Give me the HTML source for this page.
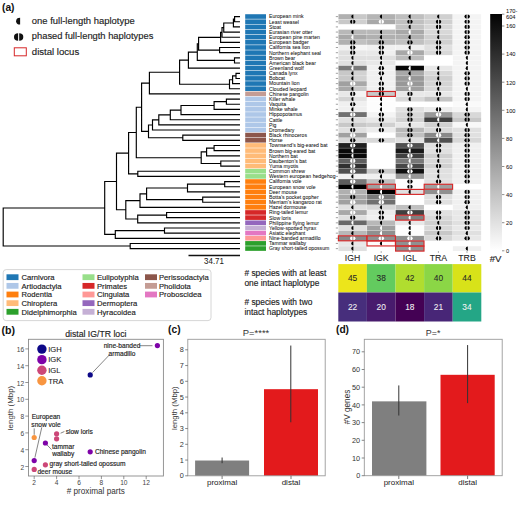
<!DOCTYPE html>
<html><head><meta charset="utf-8"><style>
html,body{margin:0;padding:0;background:#fff;width:520px;height:505px;overflow:hidden}
svg{display:block}
</style></head><body>
<svg width="520" height="505" viewBox="0 0 520 505" font-family='"Liberation Sans", sans-serif'>
<rect width="520" height="505" fill="#fff"/>
<text x="2.00" y="10.80" font-size="10.2" text-anchor="start" font-weight="bold" fill="#111" >(a)</text>
<path d="M20.1,17.8 V24.6 A4.0,3.4 0 0 1 20.1,17.8 Z" fill="#111"/>
<path d="M18.1,33.3 V40.8 A4.1,3.75 0 0 1 18.1,33.3 Z" fill="#111"/>
<path d="M19.2,33.3 V40.8 A4.1,3.75 0 0 0 19.2,33.3 Z" fill="#111"/>
<rect x="14.3" y="47.8" width="12.0" height="8.0" fill="none" stroke="#d62728" stroke-width="1"/>
<text x="31.80" y="23.80" font-size="9.45" text-anchor="start" font-weight="normal" fill="#222" stroke="#222" stroke-width="0.15" >one full-length haplotype</text>
<text x="31.80" y="38.70" font-size="9.35" text-anchor="start" font-weight="normal" fill="#222" stroke="#222" stroke-width="0.15" >phased full-length haplotypes</text>
<text x="31.80" y="54.70" font-size="9.6" text-anchor="start" font-weight="normal" fill="#222" stroke="#222" stroke-width="0.15" >distal locus</text>
<path d="M3.20,207.96V246.04M3.20,207.96H104.70M104.70,181.48V234.44M104.70,181.48H116.50M116.50,153.17V209.79M116.50,153.17H128.60M128.60,132.48V173.86M128.60,132.48H136.30M136.30,107.21V157.74M136.30,107.21H141.60M141.60,83.07V131.36M141.60,83.07H149.40M149.40,72.20V93.94M149.40,72.20H179.60M179.60,60.12V84.27M179.60,60.12H188.40M188.40,52.09V68.16M188.40,52.09H197.30M197.30,43.75V60.42M197.30,43.75H198.60M198.60,37.38V50.11M198.60,37.38H220.60M220.60,32.39V42.38M220.60,32.39H222.00M222.00,27.55V37.22M222.00,27.55H223.75M223.75,23.04V32.07M223.75,23.04H233.40M233.40,19.18V26.91M233.40,19.18H234.60M234.60,16.60V21.75M234.60,16.60H239.40M234.60,21.75H239.40M233.40,26.91H239.40M223.75,32.07H239.40M222.00,37.22H239.40M220.60,42.38H239.40M198.60,50.11H219.60M219.60,47.53V52.69M219.60,47.53H239.40M219.60,52.69H239.40M197.30,60.42H234.50M234.50,57.85V63.00M234.50,57.85H239.40M234.50,63.00H239.40M188.40,68.16H239.40M179.60,84.27H229.50M229.50,79.76V88.78M229.50,79.76H232.60M232.60,75.89V83.63M232.60,75.89H236.00M236.00,73.31V78.47M236.00,73.31H239.40M236.00,78.47H239.40M232.60,83.63H239.40M229.50,88.78H239.40M149.40,93.94H239.40M141.60,131.36H148.50M148.50,124.95V137.76M148.50,124.95H152.50M152.50,119.88V130.03M152.50,119.88H158.80M158.80,114.88V124.87M158.80,114.88H170.30M170.30,110.05V119.72M170.30,110.05H181.00M181.00,105.54V114.56M181.00,105.54H214.10M214.10,101.67V109.41M214.10,101.67H226.40M226.40,99.09V104.25M226.40,99.09H239.40M226.40,104.25H239.40M214.10,109.41H239.40M181.00,114.56H239.40M170.30,119.72H239.40M158.80,124.87H239.40M152.50,130.03H239.40M148.50,137.76H182.80M182.80,135.19V140.34M182.80,135.19H239.40M182.80,140.34H239.40M136.30,157.74H201.20M201.20,151.94V163.54M201.20,151.94H206.60M206.60,148.08V155.81M206.60,148.08H214.10M214.10,145.50V150.65M214.10,145.50H239.40M214.10,150.65H239.40M206.60,155.81H239.40M201.20,163.54H220.80M220.80,160.97V166.12M220.80,160.97H239.40M220.80,166.12H239.40M128.60,173.86H137.80M137.80,171.28V176.43M137.80,171.28H239.40M137.80,176.43H239.40M116.50,209.79H125.80M125.80,200.60V218.97M125.80,200.60H140.00M140.00,193.84V207.37M140.00,193.84H146.60M146.60,188.03V199.64M146.60,188.03H187.50M187.50,184.17V191.90M187.50,184.17H224.70M224.70,181.59V186.75M224.70,181.59H239.40M224.70,186.75H239.40M187.50,191.90H239.40M146.60,199.64H202.70M202.70,197.06V202.21M202.70,197.06H239.40M202.70,202.21H239.40M140.00,207.37H239.40M125.80,218.97H137.70M137.70,215.10V222.84M137.70,215.10H166.60M166.60,212.53V217.68M166.60,212.53H239.40M166.60,217.68H239.40M137.70,222.84H239.40M104.70,234.44H115.30M115.30,230.57V238.31M115.30,230.57H164.50M164.50,227.99V233.15M164.50,227.99H239.40M164.50,233.15H239.40M115.30,238.31H239.40M3.20,246.04H130.20M130.20,243.46V248.62M130.20,243.46H239.40M130.20,248.62H239.40" stroke="#000" stroke-width="1.15" fill="none" stroke-linecap="square"/>
<path d="M188.5,255.6H240" stroke="#111" stroke-width="1.5"/>
<text x="214.00" y="264.30" font-size="8.4" text-anchor="middle" font-weight="normal" fill="#1a1a1a" stroke="#1a1a1a" stroke-width="0.05" textLength="19.8" lengthAdjust="spacingAndGlyphs">34.71</text>
<rect x="245.2" y="14.22" width="20.8" height="4.61" fill="#1f77b4"/>
<rect x="245.2" y="19.38" width="20.8" height="4.61" fill="#1f77b4"/>
<rect x="245.2" y="24.53" width="20.8" height="4.61" fill="#1f77b4"/>
<rect x="245.2" y="29.69" width="20.8" height="4.61" fill="#1f77b4"/>
<rect x="245.2" y="34.84" width="20.8" height="4.61" fill="#1f77b4"/>
<rect x="245.2" y="40.00" width="20.8" height="4.61" fill="#1f77b4"/>
<rect x="245.2" y="45.16" width="20.8" height="4.61" fill="#1f77b4"/>
<rect x="245.2" y="50.31" width="20.8" height="4.61" fill="#1f77b4"/>
<rect x="245.2" y="55.47" width="20.8" height="4.61" fill="#1f77b4"/>
<rect x="245.2" y="60.62" width="20.8" height="4.61" fill="#1f77b4"/>
<rect x="245.2" y="65.78" width="20.8" height="4.61" fill="#1f77b4"/>
<rect x="245.2" y="70.94" width="20.8" height="4.61" fill="#1f77b4"/>
<rect x="245.2" y="76.09" width="20.8" height="4.61" fill="#1f77b4"/>
<rect x="245.2" y="81.25" width="20.8" height="4.61" fill="#1f77b4"/>
<rect x="245.2" y="86.40" width="20.8" height="4.61" fill="#1f77b4"/>
<rect x="245.2" y="91.56" width="20.8" height="4.61" fill="#c49c94"/>
<rect x="245.2" y="96.72" width="20.8" height="4.61" fill="#aec7e8"/>
<rect x="245.2" y="101.87" width="20.8" height="4.61" fill="#aec7e8"/>
<rect x="245.2" y="107.03" width="20.8" height="4.61" fill="#aec7e8"/>
<rect x="245.2" y="112.18" width="20.8" height="4.61" fill="#aec7e8"/>
<rect x="245.2" y="117.34" width="20.8" height="4.61" fill="#aec7e8"/>
<rect x="245.2" y="122.50" width="20.8" height="4.61" fill="#aec7e8"/>
<rect x="245.2" y="127.65" width="20.8" height="4.61" fill="#aec7e8"/>
<rect x="245.2" y="132.81" width="20.8" height="4.61" fill="#8c564b"/>
<rect x="245.2" y="137.96" width="20.8" height="4.61" fill="#8c564b"/>
<rect x="245.2" y="143.12" width="20.8" height="4.61" fill="#ffbb78"/>
<rect x="245.2" y="148.28" width="20.8" height="4.61" fill="#ffbb78"/>
<rect x="245.2" y="153.43" width="20.8" height="4.61" fill="#ffbb78"/>
<rect x="245.2" y="158.59" width="20.8" height="4.61" fill="#ffbb78"/>
<rect x="245.2" y="163.74" width="20.8" height="4.61" fill="#ffbb78"/>
<rect x="245.2" y="168.90" width="20.8" height="4.61" fill="#98df8a"/>
<rect x="245.2" y="174.06" width="20.8" height="4.61" fill="#98df8a"/>
<rect x="245.2" y="179.21" width="20.8" height="4.61" fill="#ff7f0e"/>
<rect x="245.2" y="184.37" width="20.8" height="4.61" fill="#ff7f0e"/>
<rect x="245.2" y="189.52" width="20.8" height="4.61" fill="#ff7f0e"/>
<rect x="245.2" y="194.68" width="20.8" height="4.61" fill="#ff7f0e"/>
<rect x="245.2" y="199.84" width="20.8" height="4.61" fill="#ff7f0e"/>
<rect x="245.2" y="204.99" width="20.8" height="4.61" fill="#ff7f0e"/>
<rect x="245.2" y="210.15" width="20.8" height="4.61" fill="#d62728"/>
<rect x="245.2" y="215.30" width="20.8" height="4.61" fill="#d62728"/>
<rect x="245.2" y="220.46" width="20.8" height="4.61" fill="#9467bd"/>
<rect x="245.2" y="225.62" width="20.8" height="4.61" fill="#c5b0d5"/>
<rect x="245.2" y="230.77" width="20.8" height="4.61" fill="#e377c2"/>
<rect x="245.2" y="235.93" width="20.8" height="4.61" fill="#ff9896"/>
<rect x="245.2" y="241.08" width="20.8" height="4.61" fill="#2ca02c"/>
<rect x="245.2" y="246.24" width="20.8" height="4.61" fill="#2ca02c"/>
<text x="269.00" y="18.45" font-size="5.15" text-anchor="start" font-weight="normal" fill="#111" stroke="#111" stroke-width="0.04" >European mink</text>
<text x="269.00" y="23.60" font-size="5.15" text-anchor="start" font-weight="normal" fill="#111" stroke="#111" stroke-width="0.04" >Least weasel</text>
<text x="269.00" y="28.76" font-size="5.15" text-anchor="start" font-weight="normal" fill="#111" stroke="#111" stroke-width="0.04" >Stoat</text>
<text x="269.00" y="33.92" font-size="5.15" text-anchor="start" font-weight="normal" fill="#111" stroke="#111" stroke-width="0.04" >Eurasian river otter</text>
<text x="269.00" y="39.07" font-size="5.15" text-anchor="start" font-weight="normal" fill="#111" stroke="#111" stroke-width="0.04" >European pine marten</text>
<text x="269.00" y="44.23" font-size="5.15" text-anchor="start" font-weight="normal" fill="#111" stroke="#111" stroke-width="0.04" >European badger</text>
<text x="269.00" y="49.38" font-size="5.15" text-anchor="start" font-weight="normal" fill="#111" stroke="#111" stroke-width="0.04" >California sea lion</text>
<text x="269.00" y="54.54" font-size="5.15" text-anchor="start" font-weight="normal" fill="#111" stroke="#111" stroke-width="0.04" >Northern elephant seal</text>
<text x="269.00" y="59.70" font-size="5.15" text-anchor="start" font-weight="normal" fill="#111" stroke="#111" stroke-width="0.04" >Brown bear</text>
<text x="269.00" y="64.85" font-size="5.15" text-anchor="start" font-weight="normal" fill="#111" stroke="#111" stroke-width="0.04" >American black bear</text>
<text x="269.00" y="70.01" font-size="5.15" text-anchor="start" font-weight="normal" fill="#111" stroke="#111" stroke-width="0.04" >Greenland wolf</text>
<text x="269.00" y="75.16" font-size="5.15" text-anchor="start" font-weight="normal" fill="#111" stroke="#111" stroke-width="0.04" >Canada lynx</text>
<text x="269.00" y="80.32" font-size="5.15" text-anchor="start" font-weight="normal" fill="#111" stroke="#111" stroke-width="0.04" >Bobcat</text>
<text x="269.00" y="85.48" font-size="5.15" text-anchor="start" font-weight="normal" fill="#111" stroke="#111" stroke-width="0.04" >Mountain lion</text>
<text x="269.00" y="90.63" font-size="5.15" text-anchor="start" font-weight="normal" fill="#111" stroke="#111" stroke-width="0.04" >Clouded leopard</text>
<text x="269.00" y="95.79" font-size="5.15" text-anchor="start" font-weight="normal" fill="#111" stroke="#111" stroke-width="0.04" >Chinese pangolin</text>
<text x="269.00" y="100.94" font-size="5.15" text-anchor="start" font-weight="normal" fill="#111" stroke="#111" stroke-width="0.04" >Killer whale</text>
<text x="269.00" y="106.10" font-size="5.15" text-anchor="start" font-weight="normal" fill="#111" stroke="#111" stroke-width="0.04" >Vaquita</text>
<text x="269.00" y="111.26" font-size="5.15" text-anchor="start" font-weight="normal" fill="#111" stroke="#111" stroke-width="0.04" >Minke whale</text>
<text x="269.00" y="116.41" font-size="5.15" text-anchor="start" font-weight="normal" fill="#111" stroke="#111" stroke-width="0.04" >Hippopotamus</text>
<text x="269.00" y="121.57" font-size="5.15" text-anchor="start" font-weight="normal" fill="#111" stroke="#111" stroke-width="0.04" >Cattle</text>
<text x="269.00" y="126.72" font-size="5.15" text-anchor="start" font-weight="normal" fill="#111" stroke="#111" stroke-width="0.04" >Pig</text>
<text x="269.00" y="131.88" font-size="5.15" text-anchor="start" font-weight="normal" fill="#111" stroke="#111" stroke-width="0.04" >Dromedary</text>
<text x="269.00" y="137.04" font-size="5.15" text-anchor="start" font-weight="normal" fill="#111" stroke="#111" stroke-width="0.04" >Black rhinoceros</text>
<text x="269.00" y="142.19" font-size="5.15" text-anchor="start" font-weight="normal" fill="#111" stroke="#111" stroke-width="0.04" >Horse</text>
<text x="269.00" y="147.35" font-size="5.15" text-anchor="start" font-weight="normal" fill="#111" stroke="#111" stroke-width="0.04" >Townsend’s big-eared bat</text>
<text x="269.00" y="152.50" font-size="5.15" text-anchor="start" font-weight="normal" fill="#111" stroke="#111" stroke-width="0.04" >Brown big-eared bat</text>
<text x="269.00" y="157.66" font-size="5.15" text-anchor="start" font-weight="normal" fill="#111" stroke="#111" stroke-width="0.04" >Northern bat</text>
<text x="269.00" y="162.82" font-size="5.15" text-anchor="start" font-weight="normal" fill="#111" stroke="#111" stroke-width="0.04" >Daubenton’s bat</text>
<text x="269.00" y="167.97" font-size="5.15" text-anchor="start" font-weight="normal" fill="#111" stroke="#111" stroke-width="0.04" >Yuma myotis</text>
<text x="269.00" y="173.13" font-size="5.15" text-anchor="start" font-weight="normal" fill="#111" stroke="#111" stroke-width="0.04" >Common shrew</text>
<text x="269.00" y="178.28" font-size="5.15" text-anchor="start" font-weight="normal" fill="#111" stroke="#111" stroke-width="0.04" >Western european hedgehog</text>
<text x="269.00" y="183.44" font-size="5.15" text-anchor="start" font-weight="normal" fill="#111" stroke="#111" stroke-width="0.04" >California vole</text>
<text x="269.00" y="188.60" font-size="5.15" text-anchor="start" font-weight="normal" fill="#111" stroke="#111" stroke-width="0.04" >European snow vole</text>
<text x="269.00" y="193.75" font-size="5.15" text-anchor="start" font-weight="normal" fill="#111" stroke="#111" stroke-width="0.04" >Deer mouse</text>
<text x="269.00" y="198.91" font-size="5.15" text-anchor="start" font-weight="normal" fill="#111" stroke="#111" stroke-width="0.04" >Botta’s pocket gopher</text>
<text x="269.00" y="204.06" font-size="5.15" text-anchor="start" font-weight="normal" fill="#111" stroke="#111" stroke-width="0.04" >Merriam’s kangaroo rat</text>
<text x="269.00" y="209.22" font-size="5.15" text-anchor="start" font-weight="normal" fill="#111" stroke="#111" stroke-width="0.04" >Hazel dormouse</text>
<text x="269.00" y="214.38" font-size="5.15" text-anchor="start" font-weight="normal" fill="#111" stroke="#111" stroke-width="0.04" >Ring-tailed lemur</text>
<text x="269.00" y="219.53" font-size="5.15" text-anchor="start" font-weight="normal" fill="#111" stroke="#111" stroke-width="0.04" >Slow loris</text>
<text x="269.00" y="224.69" font-size="5.15" text-anchor="start" font-weight="normal" fill="#111" stroke="#111" stroke-width="0.04" >Philippine flying lemur</text>
<text x="269.00" y="229.84" font-size="5.15" text-anchor="start" font-weight="normal" fill="#111" stroke="#111" stroke-width="0.04" >Yellow-spotted hyrax</text>
<text x="269.00" y="235.00" font-size="5.15" text-anchor="start" font-weight="normal" fill="#111" stroke="#111" stroke-width="0.04" >Asiatic elephant</text>
<text x="269.00" y="240.16" font-size="5.15" text-anchor="start" font-weight="normal" fill="#111" stroke="#111" stroke-width="0.04" >Nine-banded armadillo</text>
<text x="269.00" y="245.31" font-size="5.15" text-anchor="start" font-weight="normal" fill="#111" stroke="#111" stroke-width="0.04" >Tammar wallaby</text>
<text x="269.00" y="250.47" font-size="5.15" text-anchor="start" font-weight="normal" fill="#111" stroke="#111" stroke-width="0.04" >Gray short-tailed opossum</text>
<path d="M335.8,16.60H338" stroke="#444" stroke-width="0.5"/>
<path d="M335.8,21.75H338" stroke="#444" stroke-width="0.5"/>
<path d="M335.8,26.91H338" stroke="#444" stroke-width="0.5"/>
<path d="M335.8,32.07H338" stroke="#444" stroke-width="0.5"/>
<path d="M335.8,37.22H338" stroke="#444" stroke-width="0.5"/>
<path d="M335.8,42.38H338" stroke="#444" stroke-width="0.5"/>
<path d="M335.8,47.53H338" stroke="#444" stroke-width="0.5"/>
<path d="M335.8,52.69H338" stroke="#444" stroke-width="0.5"/>
<path d="M335.8,57.85H338" stroke="#444" stroke-width="0.5"/>
<path d="M335.8,63.00H338" stroke="#444" stroke-width="0.5"/>
<path d="M335.8,68.16H338" stroke="#444" stroke-width="0.5"/>
<path d="M335.8,73.31H338" stroke="#444" stroke-width="0.5"/>
<path d="M335.8,78.47H338" stroke="#444" stroke-width="0.5"/>
<path d="M335.8,83.63H338" stroke="#444" stroke-width="0.5"/>
<path d="M335.8,88.78H338" stroke="#444" stroke-width="0.5"/>
<path d="M335.8,93.94H338" stroke="#444" stroke-width="0.5"/>
<path d="M335.8,99.09H338" stroke="#444" stroke-width="0.5"/>
<path d="M335.8,104.25H338" stroke="#444" stroke-width="0.5"/>
<path d="M335.8,109.41H338" stroke="#444" stroke-width="0.5"/>
<path d="M335.8,114.56H338" stroke="#444" stroke-width="0.5"/>
<path d="M335.8,119.72H338" stroke="#444" stroke-width="0.5"/>
<path d="M335.8,124.87H338" stroke="#444" stroke-width="0.5"/>
<path d="M335.8,130.03H338" stroke="#444" stroke-width="0.5"/>
<path d="M335.8,135.19H338" stroke="#444" stroke-width="0.5"/>
<path d="M335.8,140.34H338" stroke="#444" stroke-width="0.5"/>
<path d="M335.8,145.50H338" stroke="#444" stroke-width="0.5"/>
<path d="M335.8,150.65H338" stroke="#444" stroke-width="0.5"/>
<path d="M335.8,155.81H338" stroke="#444" stroke-width="0.5"/>
<path d="M335.8,160.97H338" stroke="#444" stroke-width="0.5"/>
<path d="M335.8,166.12H338" stroke="#444" stroke-width="0.5"/>
<path d="M335.8,171.28H338" stroke="#444" stroke-width="0.5"/>
<path d="M335.8,176.43H338" stroke="#444" stroke-width="0.5"/>
<path d="M335.8,181.59H338" stroke="#444" stroke-width="0.5"/>
<path d="M335.8,186.75H338" stroke="#444" stroke-width="0.5"/>
<path d="M335.8,191.90H338" stroke="#444" stroke-width="0.5"/>
<path d="M335.8,197.06H338" stroke="#444" stroke-width="0.5"/>
<path d="M335.8,202.21H338" stroke="#444" stroke-width="0.5"/>
<path d="M335.8,207.37H338" stroke="#444" stroke-width="0.5"/>
<path d="M335.8,212.53H338" stroke="#444" stroke-width="0.5"/>
<path d="M335.8,217.68H338" stroke="#444" stroke-width="0.5"/>
<path d="M335.8,222.84H338" stroke="#444" stroke-width="0.5"/>
<path d="M335.8,227.99H338" stroke="#444" stroke-width="0.5"/>
<path d="M335.8,233.15H338" stroke="#444" stroke-width="0.5"/>
<path d="M335.8,238.31H338" stroke="#444" stroke-width="0.5"/>
<path d="M335.8,243.46H338" stroke="#444" stroke-width="0.5"/>
<path d="M335.8,248.62H338" stroke="#444" stroke-width="0.5"/>
<rect x="338.45" y="14.17" width="14.15" height="4.86" fill="#b0b0b0"/><rect x="352.60" y="14.17" width="14.15" height="4.86" fill="#c8c8c8"/><rect x="367.05" y="14.17" width="14.15" height="4.86" fill="#b5b5b5"/><rect x="381.20" y="14.17" width="14.15" height="4.86" fill="#b0b0b0"/><rect x="395.65" y="14.17" width="14.15" height="4.86" fill="#bfbfbf"/><rect x="409.80" y="14.17" width="14.15" height="4.86" fill="#bfbfbf"/><rect x="424.25" y="14.17" width="14.15" height="4.86" fill="#d0d0d0"/><rect x="438.40" y="14.17" width="14.15" height="4.86" fill="#d0d0d0"/><rect x="452.85" y="14.17" width="14.15" height="4.86" fill="#f4f4f4"/><rect x="467.00" y="14.17" width="14.15" height="4.86" fill="#f4f4f4"/><rect x="338.45" y="19.33" width="14.15" height="4.86" fill="#c8c8c8"/><rect x="352.60" y="19.33" width="14.15" height="4.86" fill="#cfcfcf"/><rect x="367.05" y="19.33" width="14.15" height="4.86" fill="#a8a8a8"/><rect x="381.20" y="19.33" width="14.15" height="4.86" fill="#a8a8a8"/><rect x="395.65" y="19.33" width="14.15" height="4.86" fill="#c0c0c0"/><rect x="409.80" y="19.33" width="14.15" height="4.86" fill="#c0c0c0"/><rect x="424.25" y="19.33" width="14.15" height="4.86" fill="#d0d0d0"/><rect x="438.40" y="19.33" width="14.15" height="4.86" fill="#d0d0d0"/><rect x="452.85" y="19.33" width="14.15" height="4.86" fill="#f4f4f4"/><rect x="467.00" y="19.33" width="14.15" height="4.86" fill="#f4f4f4"/><rect x="395.65" y="24.48" width="14.15" height="4.86" fill="#c4c4c4"/><rect x="409.80" y="24.48" width="14.15" height="4.86" fill="#c4c4c4"/><rect x="424.25" y="24.48" width="14.15" height="4.86" fill="#d8d8d8"/><rect x="438.40" y="24.48" width="14.15" height="4.86" fill="#d8d8d8"/><rect x="452.85" y="24.48" width="14.15" height="4.86" fill="#f4f4f4"/><rect x="467.00" y="24.48" width="14.15" height="4.86" fill="#f4f4f4"/><rect x="338.45" y="29.64" width="14.15" height="4.86" fill="#b8b8b8"/><rect x="352.60" y="29.64" width="14.15" height="4.86" fill="#b8b8b8"/><rect x="367.05" y="29.64" width="14.15" height="4.86" fill="#b8b8b8"/><rect x="381.20" y="29.64" width="14.15" height="4.86" fill="#b8b8b8"/><rect x="395.65" y="29.64" width="14.15" height="4.86" fill="#a8a8a8"/><rect x="409.80" y="29.64" width="14.15" height="4.86" fill="#a8a8a8"/><rect x="424.25" y="29.64" width="14.15" height="4.86" fill="#d8d8d8"/><rect x="438.40" y="29.64" width="14.15" height="4.86" fill="#d8d8d8"/><rect x="452.85" y="29.64" width="14.15" height="4.86" fill="#f4f4f4"/><rect x="467.00" y="29.64" width="14.15" height="4.86" fill="#f4f4f4"/><rect x="338.45" y="34.79" width="14.15" height="4.86" fill="#a8a8a8"/><rect x="352.60" y="34.79" width="14.15" height="4.86" fill="#a8a8a8"/><rect x="367.05" y="34.79" width="14.15" height="4.86" fill="#b0b0b0"/><rect x="381.20" y="34.79" width="14.15" height="4.86" fill="#b0b0b0"/><rect x="395.65" y="34.79" width="14.15" height="4.86" fill="#b0b0b0"/><rect x="409.80" y="34.79" width="14.15" height="4.86" fill="#b0b0b0"/><rect x="424.25" y="34.79" width="14.15" height="4.86" fill="#d0d0d0"/><rect x="438.40" y="34.79" width="14.15" height="4.86" fill="#d0d0d0"/><rect x="452.85" y="34.79" width="14.15" height="4.86" fill="#f4f4f4"/><rect x="467.00" y="34.79" width="14.15" height="4.86" fill="#f4f4f4"/><rect x="338.45" y="39.95" width="14.15" height="4.86" fill="#b0b0b0"/><rect x="352.60" y="39.95" width="14.15" height="4.86" fill="#c0c0c0"/><rect x="367.05" y="39.95" width="14.15" height="4.86" fill="#b8b8b8"/><rect x="381.20" y="39.95" width="14.15" height="4.86" fill="#b8b8b8"/><rect x="395.65" y="39.95" width="14.15" height="4.86" fill="#c0c0c0"/><rect x="409.80" y="39.95" width="14.15" height="4.86" fill="#c0c0c0"/><rect x="424.25" y="39.95" width="14.15" height="4.86" fill="#d0d0d0"/><rect x="438.40" y="39.95" width="14.15" height="4.86" fill="#d0d0d0"/><rect x="452.85" y="39.95" width="14.15" height="4.86" fill="#f4f4f4"/><rect x="467.00" y="39.95" width="14.15" height="4.86" fill="#f4f4f4"/><rect x="338.45" y="45.11" width="14.15" height="4.86" fill="#f0f0f0"/><rect x="352.60" y="45.11" width="14.15" height="4.86" fill="#f5f5f5"/><rect x="367.05" y="45.11" width="14.15" height="4.86" fill="#f0f0f0"/><rect x="381.20" y="45.11" width="14.15" height="4.86" fill="#f0f0f0"/><rect x="395.65" y="45.11" width="14.15" height="4.86" fill="#f0f0f0"/><rect x="409.80" y="45.11" width="14.15" height="4.86" fill="#f0f0f0"/><rect x="424.25" y="45.11" width="14.15" height="4.86" fill="#e0e0e0"/><rect x="438.40" y="45.11" width="14.15" height="4.86" fill="#e0e0e0"/><rect x="452.85" y="45.11" width="14.15" height="4.86" fill="#f4f4f4"/><rect x="467.00" y="45.11" width="14.15" height="4.86" fill="#f4f4f4"/><rect x="338.45" y="50.26" width="14.15" height="4.86" fill="#e0e0e0"/><rect x="352.60" y="50.26" width="14.15" height="4.86" fill="#e8e8e8"/><rect x="367.05" y="50.26" width="14.15" height="4.86" fill="#e8e8e8"/><rect x="381.20" y="50.26" width="14.15" height="4.86" fill="#f0f0f0"/><rect x="395.65" y="50.26" width="14.15" height="4.86" fill="#a8a8a8"/><rect x="409.80" y="50.26" width="14.15" height="4.86" fill="#a8a8a8"/><rect x="424.25" y="50.26" width="14.15" height="4.86" fill="#d8d8d8"/><rect x="438.40" y="50.26" width="14.15" height="4.86" fill="#d8d8d8"/><rect x="452.85" y="50.26" width="14.15" height="4.86" fill="#f4f4f4"/><rect x="467.00" y="50.26" width="14.15" height="4.86" fill="#f4f4f4"/><rect x="338.45" y="55.42" width="14.15" height="4.86" fill="#e0e0e0"/><rect x="352.60" y="55.42" width="14.15" height="4.86" fill="#e0e0e0"/><rect x="367.05" y="55.42" width="14.15" height="4.86" fill="#e0e0e0"/><rect x="381.20" y="55.42" width="14.15" height="4.86" fill="#e0e0e0"/><rect x="395.65" y="55.42" width="14.15" height="4.86" fill="#bcbcbc"/><rect x="409.80" y="55.42" width="14.15" height="4.86" fill="#bcbcbc"/><rect x="452.85" y="55.42" width="14.15" height="4.86" fill="#f4f4f4"/><rect x="467.00" y="55.42" width="14.15" height="4.86" fill="#f4f4f4"/><rect x="338.45" y="60.57" width="14.15" height="4.86" fill="#e0e0e0"/><rect x="352.60" y="60.57" width="14.15" height="4.86" fill="#e0e0e0"/><rect x="367.05" y="60.57" width="14.15" height="4.86" fill="#e8e8e8"/><rect x="381.20" y="60.57" width="14.15" height="4.86" fill="#e8e8e8"/><rect x="452.85" y="60.57" width="14.15" height="4.86" fill="#f4f4f4"/><rect x="467.00" y="60.57" width="14.15" height="4.86" fill="#f4f4f4"/><rect x="338.45" y="65.73" width="14.15" height="4.86" fill="#7a7a7a"/><rect x="352.60" y="65.73" width="14.15" height="4.86" fill="#7a7a7a"/><rect x="367.05" y="65.73" width="14.15" height="4.86" fill="#f0f0f0"/><rect x="381.20" y="65.73" width="14.15" height="4.86" fill="#f0f0f0"/><rect x="395.65" y="65.73" width="14.15" height="4.86" fill="#050505"/><rect x="409.80" y="65.73" width="14.15" height="4.86" fill="#050505"/><rect x="424.25" y="65.73" width="14.15" height="4.86" fill="#e8e8e8"/><rect x="438.40" y="65.73" width="14.15" height="4.86" fill="#e8e8e8"/><rect x="452.85" y="65.73" width="14.15" height="4.86" fill="#f4f4f4"/><rect x="467.00" y="65.73" width="14.15" height="4.86" fill="#f4f4f4"/><rect x="338.45" y="70.89" width="14.15" height="4.86" fill="#c8c8c8"/><rect x="352.60" y="70.89" width="14.15" height="4.86" fill="#d2d2d2"/><rect x="367.05" y="70.89" width="14.15" height="4.86" fill="#f0f0f0"/><rect x="381.20" y="70.89" width="14.15" height="4.86" fill="#f0f0f0"/><rect x="395.65" y="70.89" width="14.15" height="4.86" fill="#a8a8a8"/><rect x="409.80" y="70.89" width="14.15" height="4.86" fill="#a8a8a8"/><rect x="424.25" y="70.89" width="14.15" height="4.86" fill="#d8d8d8"/><rect x="438.40" y="70.89" width="14.15" height="4.86" fill="#d8d8d8"/><rect x="452.85" y="70.89" width="14.15" height="4.86" fill="#f4f4f4"/><rect x="467.00" y="70.89" width="14.15" height="4.86" fill="#f4f4f4"/><rect x="338.45" y="76.04" width="14.15" height="4.86" fill="#c8c8c8"/><rect x="352.60" y="76.04" width="14.15" height="4.86" fill="#d2d2d2"/><rect x="367.05" y="76.04" width="14.15" height="4.86" fill="#f0f0f0"/><rect x="381.20" y="76.04" width="14.15" height="4.86" fill="#f0f0f0"/><rect x="395.65" y="76.04" width="14.15" height="4.86" fill="#989898"/><rect x="409.80" y="76.04" width="14.15" height="4.86" fill="#989898"/><rect x="424.25" y="76.04" width="14.15" height="4.86" fill="#d0d0d0"/><rect x="438.40" y="76.04" width="14.15" height="4.86" fill="#d0d0d0"/><rect x="452.85" y="76.04" width="14.15" height="4.86" fill="#f4f4f4"/><rect x="467.00" y="76.04" width="14.15" height="4.86" fill="#f4f4f4"/><rect x="338.45" y="81.20" width="14.15" height="4.86" fill="#a0a0a0"/><rect x="352.60" y="81.20" width="14.15" height="4.86" fill="#a8a8a8"/><rect x="367.05" y="81.20" width="14.15" height="4.86" fill="#f0f0f0"/><rect x="381.20" y="81.20" width="14.15" height="4.86" fill="#f0f0f0"/><rect x="395.65" y="81.20" width="14.15" height="4.86" fill="#989898"/><rect x="409.80" y="81.20" width="14.15" height="4.86" fill="#989898"/><rect x="424.25" y="81.20" width="14.15" height="4.86" fill="#d4d4d4"/><rect x="438.40" y="81.20" width="14.15" height="4.86" fill="#d4d4d4"/><rect x="452.85" y="81.20" width="14.15" height="4.86" fill="#f4f4f4"/><rect x="467.00" y="81.20" width="14.15" height="4.86" fill="#f4f4f4"/><rect x="338.45" y="86.35" width="14.15" height="4.86" fill="#a8a8a8"/><rect x="352.60" y="86.35" width="14.15" height="4.86" fill="#c8c8c8"/><rect x="367.05" y="86.35" width="14.15" height="4.86" fill="#f0f0f0"/><rect x="381.20" y="86.35" width="14.15" height="4.86" fill="#f0f0f0"/><rect x="395.65" y="86.35" width="14.15" height="4.86" fill="#a0a0a0"/><rect x="409.80" y="86.35" width="14.15" height="4.86" fill="#a0a0a0"/><rect x="424.25" y="86.35" width="14.15" height="4.86" fill="#d8d8d8"/><rect x="438.40" y="86.35" width="14.15" height="4.86" fill="#d8d8d8"/><rect x="452.85" y="86.35" width="14.15" height="4.86" fill="#f4f4f4"/><rect x="467.00" y="86.35" width="14.15" height="4.86" fill="#f4f4f4"/><rect x="338.45" y="91.51" width="14.15" height="4.86" fill="#e8e8e8"/><rect x="352.60" y="91.51" width="14.15" height="4.86" fill="#f4f4f4"/><rect x="367.05" y="91.51" width="14.15" height="4.86" fill="#c8c8c8"/><rect x="381.20" y="91.51" width="14.15" height="4.86" fill="#c8c8c8"/><rect x="395.65" y="91.51" width="14.15" height="4.86" fill="#e8e8e8"/><rect x="409.80" y="91.51" width="14.15" height="4.86" fill="#e8e8e8"/><rect x="424.25" y="91.51" width="14.15" height="4.86" fill="#e8e8e8"/><rect x="438.40" y="91.51" width="14.15" height="4.86" fill="#e8e8e8"/><rect x="452.85" y="91.51" width="14.15" height="4.86" fill="#f4f4f4"/><rect x="467.00" y="91.51" width="14.15" height="4.86" fill="#f4f4f4"/><rect x="338.45" y="96.67" width="14.15" height="4.86" fill="#d4d4d4"/><rect x="352.60" y="96.67" width="14.15" height="4.86" fill="#e4e4e4"/><rect x="367.05" y="96.67" width="14.15" height="4.86" fill="#fdfdfd"/><rect x="381.20" y="96.67" width="14.15" height="4.86" fill="#fdfdfd"/><rect x="395.65" y="96.67" width="14.15" height="4.86" fill="#d8d8d8"/><rect x="409.80" y="96.67" width="14.15" height="4.86" fill="#d8d8d8"/><rect x="424.25" y="96.67" width="14.15" height="4.86" fill="#c4c4c4"/><rect x="438.40" y="96.67" width="14.15" height="4.86" fill="#c4c4c4"/><rect x="452.85" y="96.67" width="14.15" height="4.86" fill="#f4f4f4"/><rect x="467.00" y="96.67" width="14.15" height="4.86" fill="#f4f4f4"/><rect x="338.45" y="101.82" width="14.15" height="4.86" fill="#f0f0f0"/><rect x="352.60" y="101.82" width="14.15" height="4.86" fill="#f0f0f0"/><rect x="367.05" y="101.82" width="14.15" height="4.86" fill="#fdfdfd"/><rect x="381.20" y="101.82" width="14.15" height="4.86" fill="#fdfdfd"/><rect x="452.85" y="101.82" width="14.15" height="4.86" fill="#fafafa"/><rect x="467.00" y="101.82" width="14.15" height="4.86" fill="#fafafa"/><rect x="338.45" y="106.98" width="14.15" height="4.86" fill="#f0f0f0"/><rect x="352.60" y="106.98" width="14.15" height="4.86" fill="#f0f0f0"/><rect x="367.05" y="106.98" width="14.15" height="4.86" fill="#fdfdfd"/><rect x="381.20" y="106.98" width="14.15" height="4.86" fill="#fdfdfd"/><rect x="395.65" y="106.98" width="14.15" height="4.86" fill="#e0e0e0"/><rect x="409.80" y="106.98" width="14.15" height="4.86" fill="#e0e0e0"/><rect x="424.25" y="106.98" width="14.15" height="4.86" fill="#ececec"/><rect x="438.40" y="106.98" width="14.15" height="4.86" fill="#ececec"/><rect x="452.85" y="106.98" width="14.15" height="4.86" fill="#f4f4f4"/><rect x="467.00" y="106.98" width="14.15" height="4.86" fill="#f4f4f4"/><rect x="338.45" y="112.13" width="14.15" height="4.86" fill="#707070"/><rect x="352.60" y="112.13" width="14.15" height="4.86" fill="#707070"/><rect x="367.05" y="112.13" width="14.15" height="4.86" fill="#f4f4f4"/><rect x="381.20" y="112.13" width="14.15" height="4.86" fill="#f4f4f4"/><rect x="395.65" y="112.13" width="14.15" height="4.86" fill="#d8d8d8"/><rect x="409.80" y="112.13" width="14.15" height="4.86" fill="#d8d8d8"/><rect x="424.25" y="112.13" width="14.15" height="4.86" fill="#989898"/><rect x="438.40" y="112.13" width="14.15" height="4.86" fill="#989898"/><rect x="452.85" y="112.13" width="14.15" height="4.86" fill="#d8d8d8"/><rect x="467.00" y="112.13" width="14.15" height="4.86" fill="#d8d8d8"/><rect x="338.45" y="117.29" width="14.15" height="4.86" fill="#e0e0e0"/><rect x="352.60" y="117.29" width="14.15" height="4.86" fill="#e0e0e0"/><rect x="367.05" y="117.29" width="14.15" height="4.86" fill="#e8e8e8"/><rect x="381.20" y="117.29" width="14.15" height="4.86" fill="#e8e8e8"/><rect x="395.65" y="117.29" width="14.15" height="4.86" fill="#d0d0d0"/><rect x="409.80" y="117.29" width="14.15" height="4.86" fill="#d0d0d0"/><rect x="424.25" y="117.29" width="14.15" height="4.86" fill="#404040"/><rect x="438.40" y="117.29" width="14.15" height="4.86" fill="#404040"/><rect x="452.85" y="117.29" width="14.15" height="4.86" fill="#c8c8c8"/><rect x="467.00" y="117.29" width="14.15" height="4.86" fill="#c8c8c8"/><rect x="338.45" y="122.45" width="14.15" height="4.86" fill="#c8c8c8"/><rect x="352.60" y="122.45" width="14.15" height="4.86" fill="#c8c8c8"/><rect x="367.05" y="122.45" width="14.15" height="4.86" fill="#d0d0d0"/><rect x="381.20" y="122.45" width="14.15" height="4.86" fill="#d0d0d0"/><rect x="395.65" y="122.45" width="14.15" height="4.86" fill="#e8e8e8"/><rect x="409.80" y="122.45" width="14.15" height="4.86" fill="#e8e8e8"/><rect x="424.25" y="122.45" width="14.15" height="4.86" fill="#d0d0d0"/><rect x="438.40" y="122.45" width="14.15" height="4.86" fill="#d0d0d0"/><rect x="452.85" y="122.45" width="14.15" height="4.86" fill="#f8f8f8"/><rect x="467.00" y="122.45" width="14.15" height="4.86" fill="#f8f8f8"/><rect x="338.45" y="127.60" width="14.15" height="4.86" fill="#e0e0e0"/><rect x="352.60" y="127.60" width="14.15" height="4.86" fill="#e0e0e0"/><rect x="367.05" y="127.60" width="14.15" height="4.86" fill="#ececec"/><rect x="381.20" y="127.60" width="14.15" height="4.86" fill="#ececec"/><rect x="395.65" y="127.60" width="14.15" height="4.86" fill="#b8b8b8"/><rect x="409.80" y="127.60" width="14.15" height="4.86" fill="#b8b8b8"/><rect x="424.25" y="127.60" width="14.15" height="4.86" fill="#d8d8d8"/><rect x="438.40" y="127.60" width="14.15" height="4.86" fill="#d8d8d8"/><rect x="452.85" y="127.60" width="14.15" height="4.86" fill="#e0e0e0"/><rect x="467.00" y="127.60" width="14.15" height="4.86" fill="#e0e0e0"/><rect x="338.45" y="132.76" width="14.15" height="4.86" fill="#a0a0a0"/><rect x="352.60" y="132.76" width="14.15" height="4.86" fill="#a0a0a0"/><rect x="395.65" y="132.76" width="14.15" height="4.86" fill="#c0c0c0"/><rect x="409.80" y="132.76" width="14.15" height="4.86" fill="#c0c0c0"/><rect x="424.25" y="132.76" width="14.15" height="4.86" fill="#888888"/><rect x="438.40" y="132.76" width="14.15" height="4.86" fill="#888888"/><rect x="452.85" y="132.76" width="14.15" height="4.86" fill="#e0e0e0"/><rect x="467.00" y="132.76" width="14.15" height="4.86" fill="#e0e0e0"/><rect x="338.45" y="137.91" width="14.15" height="4.86" fill="#d8d8d8"/><rect x="352.60" y="137.91" width="14.15" height="4.86" fill="#d8d8d8"/><rect x="367.05" y="137.91" width="14.15" height="4.86" fill="#d8d8d8"/><rect x="381.20" y="137.91" width="14.15" height="4.86" fill="#d8d8d8"/><rect x="395.65" y="137.91" width="14.15" height="4.86" fill="#e0e0e0"/><rect x="409.80" y="137.91" width="14.15" height="4.86" fill="#e0e0e0"/><rect x="424.25" y="137.91" width="14.15" height="4.86" fill="#505050"/><rect x="438.40" y="137.91" width="14.15" height="4.86" fill="#505050"/><rect x="452.85" y="137.91" width="14.15" height="4.86" fill="#d8d8d8"/><rect x="467.00" y="137.91" width="14.15" height="4.86" fill="#d8d8d8"/><rect x="338.45" y="143.07" width="14.15" height="4.86" fill="#202020"/><rect x="352.60" y="143.07" width="14.15" height="4.86" fill="#202020"/><rect x="395.65" y="143.07" width="14.15" height="4.86" fill="#505050"/><rect x="409.80" y="143.07" width="14.15" height="4.86" fill="#505050"/><rect x="424.25" y="143.07" width="14.15" height="4.86" fill="#e0e0e0"/><rect x="438.40" y="143.07" width="14.15" height="4.86" fill="#e0e0e0"/><rect x="452.85" y="143.07" width="14.15" height="4.86" fill="#f0f0f0"/><rect x="467.00" y="143.07" width="14.15" height="4.86" fill="#f0f0f0"/><rect x="338.45" y="148.23" width="14.15" height="4.86" fill="#0a0a0a"/><rect x="352.60" y="148.23" width="14.15" height="4.86" fill="#0a0a0a"/><rect x="395.65" y="148.23" width="14.15" height="4.86" fill="#181818"/><rect x="409.80" y="148.23" width="14.15" height="4.86" fill="#181818"/><rect x="424.25" y="148.23" width="14.15" height="4.86" fill="#e0e0e0"/><rect x="438.40" y="148.23" width="14.15" height="4.86" fill="#e0e0e0"/><rect x="452.85" y="148.23" width="14.15" height="4.86" fill="#f0f0f0"/><rect x="467.00" y="148.23" width="14.15" height="4.86" fill="#f0f0f0"/><rect x="338.45" y="153.38" width="14.15" height="4.86" fill="#0a0a0a"/><rect x="352.60" y="153.38" width="14.15" height="4.86" fill="#0a0a0a"/><rect x="395.65" y="153.38" width="14.15" height="4.86" fill="#404040"/><rect x="409.80" y="153.38" width="14.15" height="4.86" fill="#404040"/><rect x="424.25" y="153.38" width="14.15" height="4.86" fill="#d0d0d0"/><rect x="438.40" y="153.38" width="14.15" height="4.86" fill="#d0d0d0"/><rect x="452.85" y="153.38" width="14.15" height="4.86" fill="#f0f0f0"/><rect x="467.00" y="153.38" width="14.15" height="4.86" fill="#f0f0f0"/><rect x="338.45" y="158.54" width="14.15" height="4.86" fill="#606060"/><rect x="352.60" y="158.54" width="14.15" height="4.86" fill="#606060"/><rect x="395.65" y="158.54" width="14.15" height="4.86" fill="#787878"/><rect x="409.80" y="158.54" width="14.15" height="4.86" fill="#787878"/><rect x="424.25" y="158.54" width="14.15" height="4.86" fill="#d8d8d8"/><rect x="438.40" y="158.54" width="14.15" height="4.86" fill="#d8d8d8"/><rect x="452.85" y="158.54" width="14.15" height="4.86" fill="#f0f0f0"/><rect x="467.00" y="158.54" width="14.15" height="4.86" fill="#f0f0f0"/><rect x="338.45" y="163.69" width="14.15" height="4.86" fill="#303030"/><rect x="352.60" y="163.69" width="14.15" height="4.86" fill="#303030"/><rect x="395.65" y="163.69" width="14.15" height="4.86" fill="#484848"/><rect x="409.80" y="163.69" width="14.15" height="4.86" fill="#484848"/><rect x="424.25" y="163.69" width="14.15" height="4.86" fill="#d0d0d0"/><rect x="438.40" y="163.69" width="14.15" height="4.86" fill="#d0d0d0"/><rect x="452.85" y="163.69" width="14.15" height="4.86" fill="#f0f0f0"/><rect x="467.00" y="163.69" width="14.15" height="4.86" fill="#f0f0f0"/><rect x="338.45" y="168.85" width="14.15" height="4.86" fill="#505050"/><rect x="352.60" y="168.85" width="14.15" height="4.86" fill="#505050"/><rect x="367.05" y="168.85" width="14.15" height="4.86" fill="#c8c8c8"/><rect x="381.20" y="168.85" width="14.15" height="4.86" fill="#c8c8c8"/><rect x="395.65" y="168.85" width="14.15" height="4.86" fill="#101010"/><rect x="409.80" y="168.85" width="14.15" height="4.86" fill="#101010"/><rect x="424.25" y="168.85" width="14.15" height="4.86" fill="#e0e0e0"/><rect x="438.40" y="168.85" width="14.15" height="4.86" fill="#e0e0e0"/><rect x="452.85" y="168.85" width="14.15" height="4.86" fill="#f0f0f0"/><rect x="467.00" y="168.85" width="14.15" height="4.86" fill="#f0f0f0"/><rect x="338.45" y="174.01" width="14.15" height="4.86" fill="#f2f2f2"/><rect x="352.60" y="174.01" width="14.15" height="4.86" fill="#f2f2f2"/><rect x="367.05" y="174.01" width="14.15" height="4.86" fill="#f0f0f0"/><rect x="381.20" y="174.01" width="14.15" height="4.86" fill="#f0f0f0"/><rect x="395.65" y="174.01" width="14.15" height="4.86" fill="#989898"/><rect x="409.80" y="174.01" width="14.15" height="4.86" fill="#989898"/><rect x="424.25" y="174.01" width="14.15" height="4.86" fill="#e0e0e0"/><rect x="438.40" y="174.01" width="14.15" height="4.86" fill="#e0e0e0"/><rect x="452.85" y="174.01" width="14.15" height="4.86" fill="#f0f0f0"/><rect x="467.00" y="174.01" width="14.15" height="4.86" fill="#f0f0f0"/><rect x="338.45" y="179.16" width="14.15" height="4.86" fill="#5c5c5c"/><rect x="352.60" y="179.16" width="14.15" height="4.86" fill="#787878"/><rect x="367.05" y="179.16" width="14.15" height="4.86" fill="#c0c0c0"/><rect x="381.20" y="179.16" width="14.15" height="4.86" fill="#c0c0c0"/><rect x="395.65" y="179.16" width="14.15" height="4.86" fill="#fdfdfd"/><rect x="409.80" y="179.16" width="14.15" height="4.86" fill="#fdfdfd"/><rect x="424.25" y="179.16" width="14.15" height="4.86" fill="#e0e0e0"/><rect x="438.40" y="179.16" width="14.15" height="4.86" fill="#e0e0e0"/><rect x="452.85" y="179.16" width="14.15" height="4.86" fill="#f0f0f0"/><rect x="467.00" y="179.16" width="14.15" height="4.86" fill="#f0f0f0"/><rect x="338.45" y="184.32" width="14.15" height="4.86" fill="#000000"/><rect x="352.60" y="184.32" width="14.15" height="4.86" fill="#000000"/><rect x="367.05" y="184.32" width="14.15" height="4.86" fill="#a0a0a0"/><rect x="381.20" y="184.32" width="14.15" height="4.86" fill="#a0a0a0"/><rect x="395.65" y="184.32" width="14.15" height="4.86" fill="#fdfdfd"/><rect x="409.80" y="184.32" width="14.15" height="4.86" fill="#fdfdfd"/><rect x="424.25" y="184.32" width="14.15" height="4.86" fill="#a0a0a0"/><rect x="438.40" y="184.32" width="14.15" height="4.86" fill="#a0a0a0"/><rect x="338.45" y="189.47" width="14.15" height="4.86" fill="#b0b0b0"/><rect x="352.60" y="189.47" width="14.15" height="4.86" fill="#b0b0b0"/><rect x="367.05" y="189.47" width="14.15" height="4.86" fill="#000000"/><rect x="381.20" y="189.47" width="14.15" height="4.86" fill="#000000"/><rect x="395.65" y="189.47" width="14.15" height="4.86" fill="#e0e0e0"/><rect x="409.80" y="189.47" width="14.15" height="4.86" fill="#e0e0e0"/><rect x="424.25" y="189.47" width="14.15" height="4.86" fill="#909090"/><rect x="438.40" y="189.47" width="14.15" height="4.86" fill="#909090"/><rect x="452.85" y="189.47" width="14.15" height="4.86" fill="#f0f0f0"/><rect x="467.00" y="189.47" width="14.15" height="4.86" fill="#f0f0f0"/><rect x="338.45" y="194.63" width="14.15" height="4.86" fill="#a8a8a8"/><rect x="352.60" y="194.63" width="14.15" height="4.86" fill="#a8a8a8"/><rect x="367.05" y="194.63" width="14.15" height="4.86" fill="#787878"/><rect x="381.20" y="194.63" width="14.15" height="4.86" fill="#787878"/><rect x="424.25" y="194.63" width="14.15" height="4.86" fill="#e0e0e0"/><rect x="438.40" y="194.63" width="14.15" height="4.86" fill="#e0e0e0"/><rect x="452.85" y="194.63" width="14.15" height="4.86" fill="#f0f0f0"/><rect x="467.00" y="194.63" width="14.15" height="4.86" fill="#f0f0f0"/><rect x="338.45" y="199.79" width="14.15" height="4.86" fill="#a0a0a0"/><rect x="352.60" y="199.79" width="14.15" height="4.86" fill="#a0a0a0"/><rect x="367.05" y="199.79" width="14.15" height="4.86" fill="#707070"/><rect x="381.20" y="199.79" width="14.15" height="4.86" fill="#707070"/><rect x="424.25" y="199.79" width="14.15" height="4.86" fill="#e0e0e0"/><rect x="438.40" y="199.79" width="14.15" height="4.86" fill="#e0e0e0"/><rect x="452.85" y="199.79" width="14.15" height="4.86" fill="#f0f0f0"/><rect x="467.00" y="199.79" width="14.15" height="4.86" fill="#f0f0f0"/><rect x="338.45" y="204.94" width="14.15" height="4.86" fill="#e0e0e0"/><rect x="352.60" y="204.94" width="14.15" height="4.86" fill="#e0e0e0"/><rect x="367.05" y="204.94" width="14.15" height="4.86" fill="#d8d8d8"/><rect x="381.20" y="204.94" width="14.15" height="4.86" fill="#d8d8d8"/><rect x="395.65" y="204.94" width="14.15" height="4.86" fill="#c0c0c0"/><rect x="409.80" y="204.94" width="14.15" height="4.86" fill="#c0c0c0"/><rect x="452.85" y="204.94" width="14.15" height="4.86" fill="#f0f0f0"/><rect x="467.00" y="204.94" width="14.15" height="4.86" fill="#f0f0f0"/><rect x="338.45" y="210.10" width="14.15" height="4.86" fill="#a8a8a8"/><rect x="352.60" y="210.10" width="14.15" height="4.86" fill="#a8a8a8"/><rect x="367.05" y="210.10" width="14.15" height="4.86" fill="#ececec"/><rect x="381.20" y="210.10" width="14.15" height="4.86" fill="#ececec"/><rect x="395.65" y="210.10" width="14.15" height="4.86" fill="#404040"/><rect x="409.80" y="210.10" width="14.15" height="4.86" fill="#404040"/><rect x="424.25" y="210.10" width="14.15" height="4.86" fill="#e0e0e0"/><rect x="438.40" y="210.10" width="14.15" height="4.86" fill="#e0e0e0"/><rect x="452.85" y="210.10" width="14.15" height="4.86" fill="#e8e8e8"/><rect x="467.00" y="210.10" width="14.15" height="4.86" fill="#e8e8e8"/><rect x="338.45" y="215.25" width="14.15" height="4.86" fill="#e0e0e0"/><rect x="352.60" y="215.25" width="14.15" height="4.86" fill="#e0e0e0"/><rect x="367.05" y="215.25" width="14.15" height="4.86" fill="#f0f0f0"/><rect x="381.20" y="215.25" width="14.15" height="4.86" fill="#f0f0f0"/><rect x="395.65" y="215.25" width="14.15" height="4.86" fill="#808080"/><rect x="409.80" y="215.25" width="14.15" height="4.86" fill="#808080"/><rect x="424.25" y="215.25" width="14.15" height="4.86" fill="#d8d8d8"/><rect x="438.40" y="215.25" width="14.15" height="4.86" fill="#d8d8d8"/><rect x="452.85" y="215.25" width="14.15" height="4.86" fill="#e8e8e8"/><rect x="467.00" y="215.25" width="14.15" height="4.86" fill="#e8e8e8"/><rect x="338.45" y="220.41" width="14.15" height="4.86" fill="#686868"/><rect x="352.60" y="220.41" width="14.15" height="4.86" fill="#686868"/><rect x="367.05" y="220.41" width="14.15" height="4.86" fill="#b8b8b8"/><rect x="381.20" y="220.41" width="14.15" height="4.86" fill="#b8b8b8"/><rect x="395.65" y="220.41" width="14.15" height="4.86" fill="#e8e8e8"/><rect x="409.80" y="220.41" width="14.15" height="4.86" fill="#e8e8e8"/><rect x="424.25" y="220.41" width="14.15" height="4.86" fill="#d0d0d0"/><rect x="438.40" y="220.41" width="14.15" height="4.86" fill="#d0d0d0"/><rect x="452.85" y="220.41" width="14.15" height="4.86" fill="#e0e0e0"/><rect x="467.00" y="220.41" width="14.15" height="4.86" fill="#e0e0e0"/><rect x="338.45" y="225.57" width="14.15" height="4.86" fill="#e0e0e0"/><rect x="352.60" y="225.57" width="14.15" height="4.86" fill="#e0e0e0"/><rect x="367.05" y="225.57" width="14.15" height="4.86" fill="#a0a0a0"/><rect x="381.20" y="225.57" width="14.15" height="4.86" fill="#a0a0a0"/><rect x="395.65" y="225.57" width="14.15" height="4.86" fill="#fdfdfd"/><rect x="409.80" y="225.57" width="14.15" height="4.86" fill="#fdfdfd"/><rect x="424.25" y="225.57" width="14.15" height="4.86" fill="#d8d8d8"/><rect x="438.40" y="225.57" width="14.15" height="4.86" fill="#d8d8d8"/><rect x="452.85" y="225.57" width="14.15" height="4.86" fill="#e8e8e8"/><rect x="467.00" y="225.57" width="14.15" height="4.86" fill="#e8e8e8"/><rect x="338.45" y="230.72" width="14.15" height="4.86" fill="#b8b8b8"/><rect x="352.60" y="230.72" width="14.15" height="4.86" fill="#b8b8b8"/><rect x="367.05" y="230.72" width="14.15" height="4.86" fill="#909090"/><rect x="381.20" y="230.72" width="14.15" height="4.86" fill="#909090"/><rect x="395.65" y="230.72" width="14.15" height="4.86" fill="#fdfdfd"/><rect x="409.80" y="230.72" width="14.15" height="4.86" fill="#fdfdfd"/><rect x="424.25" y="230.72" width="14.15" height="4.86" fill="#c8c8c8"/><rect x="438.40" y="230.72" width="14.15" height="4.86" fill="#c8c8c8"/><rect x="452.85" y="230.72" width="14.15" height="4.86" fill="#e0e0e0"/><rect x="467.00" y="230.72" width="14.15" height="4.86" fill="#e0e0e0"/><rect x="338.45" y="235.88" width="14.15" height="4.86" fill="#888888"/><rect x="352.60" y="235.88" width="14.15" height="4.86" fill="#888888"/><rect x="367.05" y="235.88" width="14.15" height="4.86" fill="#909090"/><rect x="381.20" y="235.88" width="14.15" height="4.86" fill="#909090"/><rect x="395.65" y="235.88" width="14.15" height="4.86" fill="#909090"/><rect x="409.80" y="235.88" width="14.15" height="4.86" fill="#909090"/><rect x="424.25" y="235.88" width="14.15" height="4.86" fill="#d8d8d8"/><rect x="438.40" y="235.88" width="14.15" height="4.86" fill="#d8d8d8"/><rect x="452.85" y="235.88" width="14.15" height="4.86" fill="#e8e8e8"/><rect x="467.00" y="235.88" width="14.15" height="4.86" fill="#e8e8e8"/><rect x="338.45" y="241.03" width="14.15" height="4.86" fill="#e8e8e8"/><rect x="352.60" y="241.03" width="14.15" height="4.86" fill="#e8e8e8"/><rect x="367.05" y="241.03" width="14.15" height="4.86" fill="#fdfdfd"/><rect x="381.20" y="241.03" width="14.15" height="4.86" fill="#fdfdfd"/><rect x="395.65" y="241.03" width="14.15" height="4.86" fill="#909090"/><rect x="409.80" y="241.03" width="14.15" height="4.86" fill="#909090"/><rect x="338.45" y="246.19" width="14.15" height="4.86" fill="#e0e0e0"/><rect x="352.60" y="246.19" width="14.15" height="4.86" fill="#e0e0e0"/><rect x="395.65" y="246.19" width="14.15" height="4.86" fill="#909090"/><rect x="409.80" y="246.19" width="14.15" height="4.86" fill="#909090"/><rect x="452.85" y="246.19" width="14.15" height="4.86" fill="#f0f0f0"/><rect x="467.00" y="246.19" width="14.15" height="4.86" fill="#f0f0f0"/>
<path d="M353.40,14.50V18.70A2.1,2.1 0 0 1 353.40,14.50Z" fill="#000"/><path d="M382.00,14.50V18.70A2.1,2.1 0 0 1 382.00,14.50Z" fill="#000"/><path d="M410.60,14.50V18.70A2.1,2.1 0 0 1 410.60,14.50Z" fill="#000"/><path d="M439.20,14.50V18.70A2.1,2.1 0 0 1 439.20,14.50Z" fill="#000"/><path d="M466.60,14.50V18.70A2.15,2.1 0 0 1 466.60,14.50Z" fill="#000"/><path d="M467.70,14.50V18.70A2.15,2.1 0 0 0 467.70,14.50Z" fill="#000"/><path d="M352.20,19.65V23.85A2.15,2.1 0 0 1 352.20,19.65Z" fill="#000"/><path d="M353.30,19.65V23.85A2.15,2.1 0 0 0 353.30,19.65Z" fill="#000"/><path d="M380.80,19.65V23.85A2.15,2.1 0 0 1 380.80,19.65Z" fill="#fff"/><path d="M381.90,19.65V23.85A2.15,2.1 0 0 0 381.90,19.65Z" fill="#fff"/><path d="M409.40,19.65V23.85A2.15,2.1 0 0 1 409.40,19.65Z" fill="#000"/><path d="M410.50,19.65V23.85A2.15,2.1 0 0 0 410.50,19.65Z" fill="#000"/><path d="M438.00,19.65V23.85A2.15,2.1 0 0 1 438.00,19.65Z" fill="#000"/><path d="M439.10,19.65V23.85A2.15,2.1 0 0 0 439.10,19.65Z" fill="#000"/><path d="M466.60,19.65V23.85A2.15,2.1 0 0 1 466.60,19.65Z" fill="#000"/><path d="M467.70,19.65V23.85A2.15,2.1 0 0 0 467.70,19.65Z" fill="#000"/><path d="M410.60,24.81V29.01A2.1,2.1 0 0 1 410.60,24.81Z" fill="#000"/><path d="M438.00,24.81V29.01A2.15,2.1 0 0 1 438.00,24.81Z" fill="#000"/><path d="M439.10,24.81V29.01A2.15,2.1 0 0 0 439.10,24.81Z" fill="#000"/><path d="M466.60,24.81V29.01A2.15,2.1 0 0 1 466.60,24.81Z" fill="#000"/><path d="M467.70,24.81V29.01A2.15,2.1 0 0 0 467.70,24.81Z" fill="#000"/><path d="M353.40,29.97V34.17A2.1,2.1 0 0 1 353.40,29.97Z" fill="#000"/><path d="M382.00,29.97V34.17A2.1,2.1 0 0 1 382.00,29.97Z" fill="#000"/><path d="M410.60,29.97V34.17A2.1,2.1 0 0 1 410.60,29.97Z" fill="#fff"/><path d="M439.20,29.97V34.17A2.1,2.1 0 0 1 439.20,29.97Z" fill="#000"/><path d="M466.60,29.97V34.17A2.15,2.1 0 0 1 466.60,29.97Z" fill="#000"/><path d="M467.70,29.97V34.17A2.15,2.1 0 0 0 467.70,29.97Z" fill="#000"/><path d="M353.40,35.12V39.32A2.1,2.1 0 0 1 353.40,35.12Z" fill="#fff"/><path d="M382.00,35.12V39.32A2.1,2.1 0 0 1 382.00,35.12Z" fill="#000"/><path d="M410.60,35.12V39.32A2.1,2.1 0 0 1 410.60,35.12Z" fill="#000"/><path d="M439.20,35.12V39.32A2.1,2.1 0 0 1 439.20,35.12Z" fill="#000"/><path d="M466.60,35.12V39.32A2.15,2.1 0 0 1 466.60,35.12Z" fill="#000"/><path d="M467.70,35.12V39.32A2.15,2.1 0 0 0 467.70,35.12Z" fill="#000"/><path d="M352.20,40.28V44.48A2.15,2.1 0 0 1 352.20,40.28Z" fill="#000"/><path d="M353.30,40.28V44.48A2.15,2.1 0 0 0 353.30,40.28Z" fill="#000"/><path d="M380.80,40.28V44.48A2.15,2.1 0 0 1 380.80,40.28Z" fill="#000"/><path d="M381.90,40.28V44.48A2.15,2.1 0 0 0 381.90,40.28Z" fill="#000"/><path d="M409.40,40.28V44.48A2.15,2.1 0 0 1 409.40,40.28Z" fill="#000"/><path d="M410.50,40.28V44.48A2.15,2.1 0 0 0 410.50,40.28Z" fill="#000"/><path d="M438.00,40.28V44.48A2.15,2.1 0 0 1 438.00,40.28Z" fill="#000"/><path d="M439.10,40.28V44.48A2.15,2.1 0 0 0 439.10,40.28Z" fill="#000"/><path d="M466.60,40.28V44.48A2.15,2.1 0 0 1 466.60,40.28Z" fill="#000"/><path d="M467.70,40.28V44.48A2.15,2.1 0 0 0 467.70,40.28Z" fill="#000"/><path d="M352.20,45.43V49.63A2.15,2.1 0 0 1 352.20,45.43Z" fill="#000"/><path d="M353.30,45.43V49.63A2.15,2.1 0 0 0 353.30,45.43Z" fill="#000"/><path d="M380.80,45.43V49.63A2.15,2.1 0 0 1 380.80,45.43Z" fill="#000"/><path d="M381.90,45.43V49.63A2.15,2.1 0 0 0 381.90,45.43Z" fill="#000"/><path d="M410.60,45.43V49.63A2.1,2.1 0 0 1 410.60,45.43Z" fill="#000"/><path d="M438.00,45.43V49.63A2.15,2.1 0 0 1 438.00,45.43Z" fill="#000"/><path d="M439.10,45.43V49.63A2.15,2.1 0 0 0 439.10,45.43Z" fill="#000"/><path d="M466.60,45.43V49.63A2.15,2.1 0 0 1 466.60,45.43Z" fill="#000"/><path d="M467.70,45.43V49.63A2.15,2.1 0 0 0 467.70,45.43Z" fill="#000"/><path d="M352.20,50.59V54.79A2.15,2.1 0 0 1 352.20,50.59Z" fill="#000"/><path d="M353.30,50.59V54.79A2.15,2.1 0 0 0 353.30,50.59Z" fill="#000"/><path d="M380.80,50.59V54.79A2.15,2.1 0 0 1 380.80,50.59Z" fill="#000"/><path d="M381.90,50.59V54.79A2.15,2.1 0 0 0 381.90,50.59Z" fill="#000"/><path d="M409.40,50.59V54.79A2.15,2.1 0 0 1 409.40,50.59Z" fill="#fff"/><path d="M410.50,50.59V54.79A2.15,2.1 0 0 0 410.50,50.59Z" fill="#fff"/><path d="M438.00,50.59V54.79A2.15,2.1 0 0 1 438.00,50.59Z" fill="#000"/><path d="M439.10,50.59V54.79A2.15,2.1 0 0 0 439.10,50.59Z" fill="#000"/><path d="M466.60,50.59V54.79A2.15,2.1 0 0 1 466.60,50.59Z" fill="#000"/><path d="M467.70,50.59V54.79A2.15,2.1 0 0 0 467.70,50.59Z" fill="#000"/><path d="M353.40,55.75V59.95A2.1,2.1 0 0 1 353.40,55.75Z" fill="#000"/><path d="M382.00,55.75V59.95A2.1,2.1 0 0 1 382.00,55.75Z" fill="#000"/><path d="M410.60,55.75V59.95A2.1,2.1 0 0 1 410.60,55.75Z" fill="#000"/><path d="M467.80,55.75V59.95A2.1,2.1 0 0 1 467.80,55.75Z" fill="#000"/><path d="M353.40,60.90V65.10A2.1,2.1 0 0 1 353.40,60.90Z" fill="#000"/><path d="M382.00,60.90V65.10A2.1,2.1 0 0 1 382.00,60.90Z" fill="#000"/><path d="M467.80,60.90V65.10A2.1,2.1 0 0 1 467.80,60.90Z" fill="#000"/><path d="M353.40,66.06V70.26A2.1,2.1 0 0 1 353.40,66.06Z" fill="#fff"/><path d="M380.80,66.06V70.26A2.15,2.1 0 0 1 380.80,66.06Z" fill="#000"/><path d="M381.90,66.06V70.26A2.15,2.1 0 0 0 381.90,66.06Z" fill="#000"/><path d="M410.60,66.06V70.26A2.1,2.1 0 0 1 410.60,66.06Z" fill="#fff"/><path d="M439.20,66.06V70.26A2.1,2.1 0 0 1 439.20,66.06Z" fill="#000"/><path d="M467.80,66.06V70.26A2.1,2.1 0 0 1 467.80,66.06Z" fill="#000"/><path d="M353.40,71.21V75.41A2.1,2.1 0 0 1 353.40,71.21Z" fill="#000"/><path d="M380.80,71.21V75.41A2.15,2.1 0 0 1 380.80,71.21Z" fill="#000"/><path d="M381.90,71.21V75.41A2.15,2.1 0 0 0 381.90,71.21Z" fill="#000"/><path d="M410.60,71.21V75.41A2.1,2.1 0 0 1 410.60,71.21Z" fill="#000"/><path d="M439.20,71.21V75.41A2.1,2.1 0 0 1 439.20,71.21Z" fill="#000"/><path d="M466.60,71.21V75.41A2.15,2.1 0 0 1 466.60,71.21Z" fill="#000"/><path d="M467.70,71.21V75.41A2.15,2.1 0 0 0 467.70,71.21Z" fill="#000"/><path d="M353.40,76.37V80.57A2.1,2.1 0 0 1 353.40,76.37Z" fill="#000"/><path d="M382.00,76.37V80.57A2.1,2.1 0 0 1 382.00,76.37Z" fill="#000"/><path d="M410.60,76.37V80.57A2.1,2.1 0 0 1 410.60,76.37Z" fill="#fff"/><path d="M439.20,76.37V80.57A2.1,2.1 0 0 1 439.20,76.37Z" fill="#000"/><path d="M466.60,76.37V80.57A2.15,2.1 0 0 1 466.60,76.37Z" fill="#000"/><path d="M467.70,76.37V80.57A2.15,2.1 0 0 0 467.70,76.37Z" fill="#000"/><path d="M352.20,81.53V85.73A2.15,2.1 0 0 1 352.20,81.53Z" fill="#fff"/><path d="M353.30,81.53V85.73A2.15,2.1 0 0 0 353.30,81.53Z" fill="#fff"/><path d="M380.80,81.53V85.73A2.15,2.1 0 0 1 380.80,81.53Z" fill="#000"/><path d="M381.90,81.53V85.73A2.15,2.1 0 0 0 381.90,81.53Z" fill="#000"/><path d="M409.40,81.53V85.73A2.15,2.1 0 0 1 409.40,81.53Z" fill="#fff"/><path d="M410.50,81.53V85.73A2.15,2.1 0 0 0 410.50,81.53Z" fill="#fff"/><path d="M438.00,81.53V85.73A2.15,2.1 0 0 1 438.00,81.53Z" fill="#000"/><path d="M439.10,81.53V85.73A2.15,2.1 0 0 0 439.10,81.53Z" fill="#000"/><path d="M466.60,81.53V85.73A2.15,2.1 0 0 1 466.60,81.53Z" fill="#000"/><path d="M467.70,81.53V85.73A2.15,2.1 0 0 0 467.70,81.53Z" fill="#000"/><path d="M353.40,86.68V90.88A2.1,2.1 0 0 1 353.40,86.68Z" fill="#000"/><path d="M380.80,86.68V90.88A2.15,2.1 0 0 1 380.80,86.68Z" fill="#000"/><path d="M381.90,86.68V90.88A2.15,2.1 0 0 0 381.90,86.68Z" fill="#000"/><path d="M410.60,86.68V90.88A2.1,2.1 0 0 1 410.60,86.68Z" fill="#fff"/><path d="M439.20,86.68V90.88A2.1,2.1 0 0 1 439.20,86.68Z" fill="#000"/><path d="M467.80,86.68V90.88A2.1,2.1 0 0 1 467.80,86.68Z" fill="#000"/><path d="M352.20,91.84V96.04A2.15,2.1 0 0 1 352.20,91.84Z" fill="#000"/><path d="M353.30,91.84V96.04A2.15,2.1 0 0 0 353.30,91.84Z" fill="#000"/><path d="M380.80,91.84V96.04A2.15,2.1 0 0 1 380.80,91.84Z" fill="#000"/><path d="M381.90,91.84V96.04A2.15,2.1 0 0 0 381.90,91.84Z" fill="#000"/><path d="M409.40,91.84V96.04A2.15,2.1 0 0 1 409.40,91.84Z" fill="#000"/><path d="M410.50,91.84V96.04A2.15,2.1 0 0 0 410.50,91.84Z" fill="#000"/><path d="M438.00,91.84V96.04A2.15,2.1 0 0 1 438.00,91.84Z" fill="#000"/><path d="M439.10,91.84V96.04A2.15,2.1 0 0 0 439.10,91.84Z" fill="#000"/><path d="M466.60,91.84V96.04A2.15,2.1 0 0 1 466.60,91.84Z" fill="#000"/><path d="M467.70,91.84V96.04A2.15,2.1 0 0 0 467.70,91.84Z" fill="#000"/><path d="M353.40,96.99V101.19A2.1,2.1 0 0 1 353.40,96.99Z" fill="#000"/><path d="M382.00,96.99V101.19A2.1,2.1 0 0 1 382.00,96.99Z" fill="#000"/><path d="M410.60,96.99V101.19A2.1,2.1 0 0 1 410.60,96.99Z" fill="#000"/><path d="M439.20,96.99V101.19A2.1,2.1 0 0 1 439.20,96.99Z" fill="#000"/><path d="M466.60,96.99V101.19A2.15,2.1 0 0 1 466.60,96.99Z" fill="#000"/><path d="M467.70,96.99V101.19A2.15,2.1 0 0 0 467.70,96.99Z" fill="#000"/><path d="M352.20,102.15V106.35A2.15,2.1 0 0 1 352.20,102.15Z" fill="#000"/><path d="M353.30,102.15V106.35A2.15,2.1 0 0 0 353.30,102.15Z" fill="#000"/><path d="M382.00,102.15V106.35A2.1,2.1 0 0 1 382.00,102.15Z" fill="#000"/><path d="M467.80,102.15V106.35A2.1,2.1 0 0 1 467.80,102.15Z" fill="#000"/><path d="M353.40,107.31V111.51A2.1,2.1 0 0 1 353.40,107.31Z" fill="#000"/><path d="M382.00,107.31V111.51A2.1,2.1 0 0 1 382.00,107.31Z" fill="#000"/><path d="M409.40,107.31V111.51A2.15,2.1 0 0 1 409.40,107.31Z" fill="#000"/><path d="M410.50,107.31V111.51A2.15,2.1 0 0 0 410.50,107.31Z" fill="#000"/><path d="M438.00,107.31V111.51A2.15,2.1 0 0 1 438.00,107.31Z" fill="#000"/><path d="M439.10,107.31V111.51A2.15,2.1 0 0 0 439.10,107.31Z" fill="#000"/><path d="M467.80,107.31V111.51A2.1,2.1 0 0 1 467.80,107.31Z" fill="#000"/><path d="M352.20,112.46V116.66A2.15,2.1 0 0 1 352.20,112.46Z" fill="#fff"/><path d="M353.30,112.46V116.66A2.15,2.1 0 0 0 353.30,112.46Z" fill="#fff"/><path d="M380.80,112.46V116.66A2.15,2.1 0 0 1 380.80,112.46Z" fill="#000"/><path d="M381.90,112.46V116.66A2.15,2.1 0 0 0 381.90,112.46Z" fill="#000"/><path d="M409.40,112.46V116.66A2.15,2.1 0 0 1 409.40,112.46Z" fill="#000"/><path d="M410.50,112.46V116.66A2.15,2.1 0 0 0 410.50,112.46Z" fill="#000"/><path d="M438.00,112.46V116.66A2.15,2.1 0 0 1 438.00,112.46Z" fill="#fff"/><path d="M439.10,112.46V116.66A2.15,2.1 0 0 0 439.10,112.46Z" fill="#fff"/><path d="M466.60,112.46V116.66A2.15,2.1 0 0 1 466.60,112.46Z" fill="#000"/><path d="M467.70,112.46V116.66A2.15,2.1 0 0 0 467.70,112.46Z" fill="#000"/><path d="M353.40,117.62V121.82A2.1,2.1 0 0 1 353.40,117.62Z" fill="#000"/><path d="M380.80,117.62V121.82A2.15,2.1 0 0 1 380.80,117.62Z" fill="#000"/><path d="M381.90,117.62V121.82A2.15,2.1 0 0 0 381.90,117.62Z" fill="#000"/><path d="M409.40,117.62V121.82A2.15,2.1 0 0 1 409.40,117.62Z" fill="#000"/><path d="M410.50,117.62V121.82A2.15,2.1 0 0 0 410.50,117.62Z" fill="#000"/><path d="M439.20,117.62V121.82A2.1,2.1 0 0 1 439.20,117.62Z" fill="#fff"/><path d="M466.60,117.62V121.82A2.15,2.1 0 0 1 466.60,117.62Z" fill="#000"/><path d="M467.70,117.62V121.82A2.15,2.1 0 0 0 467.70,117.62Z" fill="#000"/><path d="M353.40,122.77V126.97A2.1,2.1 0 0 1 353.40,122.77Z" fill="#000"/><path d="M382.00,122.77V126.97A2.1,2.1 0 0 1 382.00,122.77Z" fill="#000"/><path d="M410.60,122.77V126.97A2.1,2.1 0 0 1 410.60,122.77Z" fill="#000"/><path d="M439.20,122.77V126.97A2.1,2.1 0 0 1 439.20,122.77Z" fill="#000"/><path d="M467.80,122.77V126.97A2.1,2.1 0 0 1 467.80,122.77Z" fill="#000"/><path d="M352.20,127.93V132.13A2.15,2.1 0 0 1 352.20,127.93Z" fill="#000"/><path d="M353.30,127.93V132.13A2.15,2.1 0 0 0 353.30,127.93Z" fill="#000"/><path d="M380.80,127.93V132.13A2.15,2.1 0 0 1 380.80,127.93Z" fill="#000"/><path d="M381.90,127.93V132.13A2.15,2.1 0 0 0 381.90,127.93Z" fill="#000"/><path d="M409.40,127.93V132.13A2.15,2.1 0 0 1 409.40,127.93Z" fill="#000"/><path d="M410.50,127.93V132.13A2.15,2.1 0 0 0 410.50,127.93Z" fill="#000"/><path d="M438.00,127.93V132.13A2.15,2.1 0 0 1 438.00,127.93Z" fill="#000"/><path d="M439.10,127.93V132.13A2.15,2.1 0 0 0 439.10,127.93Z" fill="#000"/><path d="M466.60,127.93V132.13A2.15,2.1 0 0 1 466.60,127.93Z" fill="#000"/><path d="M467.70,127.93V132.13A2.15,2.1 0 0 0 467.70,127.93Z" fill="#000"/><path d="M352.20,133.09V137.29A2.15,2.1 0 0 1 352.20,133.09Z" fill="#fff"/><path d="M353.30,133.09V137.29A2.15,2.1 0 0 0 353.30,133.09Z" fill="#fff"/><path d="M409.40,133.09V137.29A2.15,2.1 0 0 1 409.40,133.09Z" fill="#000"/><path d="M410.50,133.09V137.29A2.15,2.1 0 0 0 410.50,133.09Z" fill="#000"/><path d="M438.00,133.09V137.29A2.15,2.1 0 0 1 438.00,133.09Z" fill="#fff"/><path d="M439.10,133.09V137.29A2.15,2.1 0 0 0 439.10,133.09Z" fill="#fff"/><path d="M466.60,133.09V137.29A2.15,2.1 0 0 1 466.60,133.09Z" fill="#000"/><path d="M467.70,133.09V137.29A2.15,2.1 0 0 0 467.70,133.09Z" fill="#000"/><path d="M352.20,138.24V142.44A2.15,2.1 0 0 1 352.20,138.24Z" fill="#000"/><path d="M353.30,138.24V142.44A2.15,2.1 0 0 0 353.30,138.24Z" fill="#000"/><path d="M380.80,138.24V142.44A2.15,2.1 0 0 1 380.80,138.24Z" fill="#000"/><path d="M381.90,138.24V142.44A2.15,2.1 0 0 0 381.90,138.24Z" fill="#000"/><path d="M410.60,138.24V142.44A2.1,2.1 0 0 1 410.60,138.24Z" fill="#000"/><path d="M439.20,138.24V142.44A2.1,2.1 0 0 1 439.20,138.24Z" fill="#fff"/><path d="M466.60,138.24V142.44A2.15,2.1 0 0 1 466.60,138.24Z" fill="#000"/><path d="M467.70,138.24V142.44A2.15,2.1 0 0 0 467.70,138.24Z" fill="#000"/><path d="M352.20,143.40V147.60A2.15,2.1 0 0 1 352.20,143.40Z" fill="#fff"/><path d="M353.30,143.40V147.60A2.15,2.1 0 0 0 353.30,143.40Z" fill="#fff"/><path d="M409.40,143.40V147.60A2.15,2.1 0 0 1 409.40,143.40Z" fill="#fff"/><path d="M410.50,143.40V147.60A2.15,2.1 0 0 0 410.50,143.40Z" fill="#fff"/><path d="M438.00,143.40V147.60A2.15,2.1 0 0 1 438.00,143.40Z" fill="#000"/><path d="M439.10,143.40V147.60A2.15,2.1 0 0 0 439.10,143.40Z" fill="#000"/><path d="M466.60,143.40V147.60A2.15,2.1 0 0 1 466.60,143.40Z" fill="#000"/><path d="M467.70,143.40V147.60A2.15,2.1 0 0 0 467.70,143.40Z" fill="#000"/><path d="M353.40,148.55V152.75A2.1,2.1 0 0 1 353.40,148.55Z" fill="#fff"/><path d="M410.60,148.55V152.75A2.1,2.1 0 0 1 410.60,148.55Z" fill="#fff"/><path d="M438.00,148.55V152.75A2.15,2.1 0 0 1 438.00,148.55Z" fill="#000"/><path d="M439.10,148.55V152.75A2.15,2.1 0 0 0 439.10,148.55Z" fill="#000"/><path d="M466.60,148.55V152.75A2.15,2.1 0 0 1 466.60,148.55Z" fill="#000"/><path d="M467.70,148.55V152.75A2.15,2.1 0 0 0 467.70,148.55Z" fill="#000"/><path d="M353.40,153.71V157.91A2.1,2.1 0 0 1 353.40,153.71Z" fill="#fff"/><path d="M409.40,153.71V157.91A2.15,2.1 0 0 1 409.40,153.71Z" fill="#fff"/><path d="M410.50,153.71V157.91A2.15,2.1 0 0 0 410.50,153.71Z" fill="#fff"/><path d="M439.20,153.71V157.91A2.1,2.1 0 0 1 439.20,153.71Z" fill="#000"/><path d="M466.60,153.71V157.91A2.15,2.1 0 0 1 466.60,153.71Z" fill="#000"/><path d="M467.70,153.71V157.91A2.15,2.1 0 0 0 467.70,153.71Z" fill="#000"/><path d="M352.20,158.87V163.07A2.15,2.1 0 0 1 352.20,158.87Z" fill="#fff"/><path d="M353.30,158.87V163.07A2.15,2.1 0 0 0 353.30,158.87Z" fill="#fff"/><path d="M410.60,158.87V163.07A2.1,2.1 0 0 1 410.60,158.87Z" fill="#fff"/><path d="M439.20,158.87V163.07A2.1,2.1 0 0 1 439.20,158.87Z" fill="#000"/><path d="M466.60,158.87V163.07A2.15,2.1 0 0 1 466.60,158.87Z" fill="#000"/><path d="M467.70,158.87V163.07A2.15,2.1 0 0 0 467.70,158.87Z" fill="#000"/><path d="M352.20,164.02V168.22A2.15,2.1 0 0 1 352.20,164.02Z" fill="#fff"/><path d="M353.30,164.02V168.22A2.15,2.1 0 0 0 353.30,164.02Z" fill="#fff"/><path d="M409.40,164.02V168.22A2.15,2.1 0 0 1 409.40,164.02Z" fill="#fff"/><path d="M410.50,164.02V168.22A2.15,2.1 0 0 0 410.50,164.02Z" fill="#fff"/><path d="M438.00,164.02V168.22A2.15,2.1 0 0 1 438.00,164.02Z" fill="#000"/><path d="M439.10,164.02V168.22A2.15,2.1 0 0 0 439.10,164.02Z" fill="#000"/><path d="M466.60,164.02V168.22A2.15,2.1 0 0 1 466.60,164.02Z" fill="#000"/><path d="M467.70,164.02V168.22A2.15,2.1 0 0 0 467.70,164.02Z" fill="#000"/><path d="M352.20,169.18V173.38A2.15,2.1 0 0 1 352.20,169.18Z" fill="#fff"/><path d="M353.30,169.18V173.38A2.15,2.1 0 0 0 353.30,169.18Z" fill="#fff"/><path d="M380.80,169.18V173.38A2.15,2.1 0 0 1 380.80,169.18Z" fill="#000"/><path d="M381.90,169.18V173.38A2.15,2.1 0 0 0 381.90,169.18Z" fill="#000"/><path d="M409.40,169.18V173.38A2.15,2.1 0 0 1 409.40,169.18Z" fill="#fff"/><path d="M410.50,169.18V173.38A2.15,2.1 0 0 0 410.50,169.18Z" fill="#fff"/><path d="M439.20,169.18V173.38A2.1,2.1 0 0 1 439.20,169.18Z" fill="#000"/><path d="M466.60,169.18V173.38A2.15,2.1 0 0 1 466.60,169.18Z" fill="#000"/><path d="M467.70,169.18V173.38A2.15,2.1 0 0 0 467.70,169.18Z" fill="#000"/><path d="M353.40,174.33V178.53A2.1,2.1 0 0 1 353.40,174.33Z" fill="#000"/><path d="M382.00,174.33V178.53A2.1,2.1 0 0 1 382.00,174.33Z" fill="#000"/><path d="M410.60,174.33V178.53A2.1,2.1 0 0 1 410.60,174.33Z" fill="#fff"/><path d="M439.20,174.33V178.53A2.1,2.1 0 0 1 439.20,174.33Z" fill="#000"/><path d="M466.60,174.33V178.53A2.15,2.1 0 0 1 466.60,174.33Z" fill="#000"/><path d="M467.70,174.33V178.53A2.15,2.1 0 0 0 467.70,174.33Z" fill="#000"/><path d="M352.20,179.49V183.69A2.15,2.1 0 0 1 352.20,179.49Z" fill="#fff"/><path d="M353.30,179.49V183.69A2.15,2.1 0 0 0 353.30,179.49Z" fill="#fff"/><path d="M380.80,179.49V183.69A2.15,2.1 0 0 1 380.80,179.49Z" fill="#000"/><path d="M381.90,179.49V183.69A2.15,2.1 0 0 0 381.90,179.49Z" fill="#000"/><path d="M409.40,179.49V183.69A2.15,2.1 0 0 1 409.40,179.49Z" fill="#000"/><path d="M410.50,179.49V183.69A2.15,2.1 0 0 0 410.50,179.49Z" fill="#000"/><path d="M438.00,179.49V183.69A2.15,2.1 0 0 1 438.00,179.49Z" fill="#000"/><path d="M439.10,179.49V183.69A2.15,2.1 0 0 0 439.10,179.49Z" fill="#000"/><path d="M466.60,179.49V183.69A2.15,2.1 0 0 1 466.60,179.49Z" fill="#000"/><path d="M467.70,179.49V183.69A2.15,2.1 0 0 0 467.70,179.49Z" fill="#000"/><path d="M353.40,184.65V188.85A2.1,2.1 0 0 1 353.40,184.65Z" fill="#fff"/><path d="M382.00,184.65V188.85A2.1,2.1 0 0 1 382.00,184.65Z" fill="#fff"/><path d="M409.40,184.65V188.85A2.15,2.1 0 0 1 409.40,184.65Z" fill="#000"/><path d="M410.50,184.65V188.85A2.15,2.1 0 0 0 410.50,184.65Z" fill="#000"/><path d="M439.20,184.65V188.85A2.1,2.1 0 0 1 439.20,184.65Z" fill="#fff"/><path d="M352.20,189.80V194.00A2.15,2.1 0 0 1 352.20,189.80Z" fill="#fff"/><path d="M353.30,189.80V194.00A2.15,2.1 0 0 0 353.30,189.80Z" fill="#fff"/><path d="M382.00,189.80V194.00A2.1,2.1 0 0 1 382.00,189.80Z" fill="#fff"/><path d="M410.60,189.80V194.00A2.1,2.1 0 0 1 410.60,189.80Z" fill="#000"/><path d="M439.20,189.80V194.00A2.1,2.1 0 0 1 439.20,189.80Z" fill="#fff"/><path d="M466.60,189.80V194.00A2.15,2.1 0 0 1 466.60,189.80Z" fill="#000"/><path d="M467.70,189.80V194.00A2.15,2.1 0 0 0 467.70,189.80Z" fill="#000"/><path d="M352.20,194.96V199.16A2.15,2.1 0 0 1 352.20,194.96Z" fill="#000"/><path d="M353.30,194.96V199.16A2.15,2.1 0 0 0 353.30,194.96Z" fill="#000"/><path d="M380.80,194.96V199.16A2.15,2.1 0 0 1 380.80,194.96Z" fill="#fff"/><path d="M381.90,194.96V199.16A2.15,2.1 0 0 0 381.90,194.96Z" fill="#fff"/><path d="M438.00,194.96V199.16A2.15,2.1 0 0 1 438.00,194.96Z" fill="#000"/><path d="M439.10,194.96V199.16A2.15,2.1 0 0 0 439.10,194.96Z" fill="#000"/><path d="M466.60,194.96V199.16A2.15,2.1 0 0 1 466.60,194.96Z" fill="#000"/><path d="M467.70,194.96V199.16A2.15,2.1 0 0 0 467.70,194.96Z" fill="#000"/><path d="M352.20,200.11V204.31A2.15,2.1 0 0 1 352.20,200.11Z" fill="#fff"/><path d="M353.30,200.11V204.31A2.15,2.1 0 0 0 353.30,200.11Z" fill="#fff"/><path d="M380.80,200.11V204.31A2.15,2.1 0 0 1 380.80,200.11Z" fill="#fff"/><path d="M381.90,200.11V204.31A2.15,2.1 0 0 0 381.90,200.11Z" fill="#fff"/><path d="M438.00,200.11V204.31A2.15,2.1 0 0 1 438.00,200.11Z" fill="#000"/><path d="M439.10,200.11V204.31A2.15,2.1 0 0 0 439.10,200.11Z" fill="#000"/><path d="M466.60,200.11V204.31A2.15,2.1 0 0 1 466.60,200.11Z" fill="#000"/><path d="M467.70,200.11V204.31A2.15,2.1 0 0 0 467.70,200.11Z" fill="#000"/><path d="M353.40,205.27V209.47A2.1,2.1 0 0 1 353.40,205.27Z" fill="#000"/><path d="M382.00,205.27V209.47A2.1,2.1 0 0 1 382.00,205.27Z" fill="#000"/><path d="M410.60,205.27V209.47A2.1,2.1 0 0 1 410.60,205.27Z" fill="#000"/><path d="M467.80,205.27V209.47A2.1,2.1 0 0 1 467.80,205.27Z" fill="#000"/><path d="M352.20,210.43V214.63A2.15,2.1 0 0 1 352.20,210.43Z" fill="#fff"/><path d="M353.30,210.43V214.63A2.15,2.1 0 0 0 353.30,210.43Z" fill="#fff"/><path d="M380.80,210.43V214.63A2.15,2.1 0 0 1 380.80,210.43Z" fill="#000"/><path d="M381.90,210.43V214.63A2.15,2.1 0 0 0 381.90,210.43Z" fill="#000"/><path d="M409.40,210.43V214.63A2.15,2.1 0 0 1 409.40,210.43Z" fill="#fff"/><path d="M410.50,210.43V214.63A2.15,2.1 0 0 0 410.50,210.43Z" fill="#fff"/><path d="M438.00,210.43V214.63A2.15,2.1 0 0 1 438.00,210.43Z" fill="#000"/><path d="M439.10,210.43V214.63A2.15,2.1 0 0 0 439.10,210.43Z" fill="#000"/><path d="M466.60,210.43V214.63A2.15,2.1 0 0 1 466.60,210.43Z" fill="#000"/><path d="M467.70,210.43V214.63A2.15,2.1 0 0 0 467.70,210.43Z" fill="#000"/><path d="M352.20,215.58V219.78A2.15,2.1 0 0 1 352.20,215.58Z" fill="#000"/><path d="M353.30,215.58V219.78A2.15,2.1 0 0 0 353.30,215.58Z" fill="#000"/><path d="M380.80,215.58V219.78A2.15,2.1 0 0 1 380.80,215.58Z" fill="#000"/><path d="M381.90,215.58V219.78A2.15,2.1 0 0 0 381.90,215.58Z" fill="#000"/><path d="M410.60,215.58V219.78A2.1,2.1 0 0 1 410.60,215.58Z" fill="#fff"/><path d="M438.00,215.58V219.78A2.15,2.1 0 0 1 438.00,215.58Z" fill="#000"/><path d="M439.10,215.58V219.78A2.15,2.1 0 0 0 439.10,215.58Z" fill="#000"/><path d="M466.60,215.58V219.78A2.15,2.1 0 0 1 466.60,215.58Z" fill="#000"/><path d="M467.70,215.58V219.78A2.15,2.1 0 0 0 467.70,215.58Z" fill="#000"/><path d="M353.40,220.74V224.94A2.1,2.1 0 0 1 353.40,220.74Z" fill="#fff"/><path d="M382.00,220.74V224.94A2.1,2.1 0 0 1 382.00,220.74Z" fill="#000"/><path d="M410.60,220.74V224.94A2.1,2.1 0 0 1 410.60,220.74Z" fill="#000"/><path d="M439.20,220.74V224.94A2.1,2.1 0 0 1 439.20,220.74Z" fill="#000"/><path d="M466.60,220.74V224.94A2.15,2.1 0 0 1 466.60,220.74Z" fill="#000"/><path d="M467.70,220.74V224.94A2.15,2.1 0 0 0 467.70,220.74Z" fill="#000"/><path d="M353.40,225.89V230.09A2.1,2.1 0 0 1 353.40,225.89Z" fill="#000"/><path d="M382.00,225.89V230.09A2.1,2.1 0 0 1 382.00,225.89Z" fill="#fff"/><path d="M410.60,225.89V230.09A2.1,2.1 0 0 1 410.60,225.89Z" fill="#000"/><path d="M438.00,225.89V230.09A2.15,2.1 0 0 1 438.00,225.89Z" fill="#000"/><path d="M439.10,225.89V230.09A2.15,2.1 0 0 0 439.10,225.89Z" fill="#000"/><path d="M466.60,225.89V230.09A2.15,2.1 0 0 1 466.60,225.89Z" fill="#000"/><path d="M467.70,225.89V230.09A2.15,2.1 0 0 0 467.70,225.89Z" fill="#000"/><path d="M353.40,231.05V235.25A2.1,2.1 0 0 1 353.40,231.05Z" fill="#000"/><path d="M382.00,231.05V235.25A2.1,2.1 0 0 1 382.00,231.05Z" fill="#fff"/><path d="M410.60,231.05V235.25A2.1,2.1 0 0 1 410.60,231.05Z" fill="#000"/><path d="M439.20,231.05V235.25A2.1,2.1 0 0 1 439.20,231.05Z" fill="#000"/><path d="M467.80,231.05V235.25A2.1,2.1 0 0 1 467.80,231.05Z" fill="#000"/><path d="M352.20,236.21V240.41A2.15,2.1 0 0 1 352.20,236.21Z" fill="#fff"/><path d="M353.30,236.21V240.41A2.15,2.1 0 0 0 353.30,236.21Z" fill="#fff"/><path d="M380.80,236.21V240.41A2.15,2.1 0 0 1 380.80,236.21Z" fill="#fff"/><path d="M381.90,236.21V240.41A2.15,2.1 0 0 0 381.90,236.21Z" fill="#fff"/><path d="M409.40,236.21V240.41A2.15,2.1 0 0 1 409.40,236.21Z" fill="#fff"/><path d="M410.50,236.21V240.41A2.15,2.1 0 0 0 410.50,236.21Z" fill="#fff"/><path d="M438.00,236.21V240.41A2.15,2.1 0 0 1 438.00,236.21Z" fill="#000"/><path d="M439.10,236.21V240.41A2.15,2.1 0 0 0 439.10,236.21Z" fill="#000"/><path d="M466.60,236.21V240.41A2.15,2.1 0 0 1 466.60,236.21Z" fill="#000"/><path d="M467.70,236.21V240.41A2.15,2.1 0 0 0 467.70,236.21Z" fill="#000"/><path d="M353.40,241.36V245.56A2.1,2.1 0 0 1 353.40,241.36Z" fill="#000"/><path d="M382.00,241.36V245.56A2.1,2.1 0 0 1 382.00,241.36Z" fill="#000"/><path d="M410.60,241.36V245.56A2.1,2.1 0 0 1 410.60,241.36Z" fill="#fff"/><path d="M353.40,246.52V250.72A2.1,2.1 0 0 1 353.40,246.52Z" fill="#000"/><path d="M410.60,246.52V250.72A2.1,2.1 0 0 1 410.60,246.52Z" fill="#fff"/><path d="M467.80,246.52V250.72A2.1,2.1 0 0 1 467.80,246.52Z" fill="#000"/>
<rect x="367.00" y="91.46" width="28.40" height="4.96" fill="none" stroke="#d62728" stroke-width="1.15"/><rect x="367.00" y="184.27" width="28.40" height="4.96" fill="none" stroke="#d62728" stroke-width="1.15"/><rect x="424.20" y="184.27" width="28.40" height="4.96" fill="none" stroke="#d62728" stroke-width="1.15"/><rect x="395.60" y="189.42" width="28.40" height="4.96" fill="none" stroke="#d62728" stroke-width="1.15"/><rect x="395.60" y="215.20" width="28.40" height="4.96" fill="none" stroke="#d62728" stroke-width="1.15"/><rect x="338.40" y="235.83" width="28.40" height="4.96" fill="none" stroke="#d62728" stroke-width="1.15"/><rect x="367.00" y="235.83" width="28.40" height="4.96" fill="none" stroke="#d62728" stroke-width="1.15"/><rect x="367.00" y="240.98" width="28.40" height="4.96" fill="none" stroke="#d62728" stroke-width="1.15"/><rect x="395.60" y="240.98" width="28.40" height="4.96" fill="none" stroke="#d62728" stroke-width="1.15"/><rect x="395.60" y="246.14" width="28.40" height="4.96" fill="none" stroke="#d62728" stroke-width="1.15"/>
<defs><linearGradient id="gb" x1="0" y1="1" x2="0" y2="0"><stop offset="0" stop-color="#ffffff"/><stop offset="1" stop-color="#030303"/></linearGradient></defs>
<rect x="490.2" y="14.0" width="11.8" height="236.8" fill="url(#gb)"/>
<path d="M502,250.80H504.4" stroke="#444" stroke-width="0.6"/>
<text x="506.00" y="253.10" font-size="5.7" text-anchor="start" font-weight="normal" fill="#222" stroke="#222" stroke-width="0.05" >0</text>
<path d="M502,222.70H504.4" stroke="#444" stroke-width="0.6"/>
<text x="506.00" y="225.00" font-size="5.7" text-anchor="start" font-weight="normal" fill="#222" stroke="#222" stroke-width="0.05" >20</text>
<path d="M502,194.60H504.4" stroke="#444" stroke-width="0.6"/>
<text x="506.00" y="196.90" font-size="5.7" text-anchor="start" font-weight="normal" fill="#222" stroke="#222" stroke-width="0.05" >40</text>
<path d="M502,166.50H504.4" stroke="#444" stroke-width="0.6"/>
<text x="506.00" y="168.80" font-size="5.7" text-anchor="start" font-weight="normal" fill="#222" stroke="#222" stroke-width="0.05" >60</text>
<path d="M502,138.40H504.4" stroke="#444" stroke-width="0.6"/>
<text x="506.00" y="140.70" font-size="5.7" text-anchor="start" font-weight="normal" fill="#222" stroke="#222" stroke-width="0.05" >80</text>
<path d="M502,110.30H504.4" stroke="#444" stroke-width="0.6"/>
<text x="506.00" y="112.60" font-size="5.7" text-anchor="start" font-weight="normal" fill="#222" stroke="#222" stroke-width="0.05" >100</text>
<path d="M502,82.20H504.4" stroke="#444" stroke-width="0.6"/>
<text x="506.00" y="84.50" font-size="5.7" text-anchor="start" font-weight="normal" fill="#222" stroke="#222" stroke-width="0.05" >120</text>
<path d="M502,54.10H504.4" stroke="#444" stroke-width="0.6"/>
<text x="506.00" y="56.40" font-size="5.7" text-anchor="start" font-weight="normal" fill="#222" stroke="#222" stroke-width="0.05" >140</text>
<path d="M502,26.00H504.4" stroke="#444" stroke-width="0.6"/>
<text x="506.00" y="28.30" font-size="5.7" text-anchor="start" font-weight="normal" fill="#222" stroke="#222" stroke-width="0.05" >160</text>
<path d="M502,14.2H504.4" stroke="#444" stroke-width="0.6"/>
<text x="506.00" y="13.45" font-size="5.7" text-anchor="start" font-weight="normal" fill="#222" stroke="#222" stroke-width="0.05" >170-</text>
<text x="506.00" y="19.20" font-size="5.7" text-anchor="start" font-weight="normal" fill="#222" stroke="#222" stroke-width="0.05" >604</text>
<text x="352.60" y="261.40" font-size="8.7" text-anchor="middle" font-weight="normal" fill="#222" stroke="#222" stroke-width="0.08" >IGH</text>
<path d="M352.60,251V253" stroke="#666" stroke-width="0.5"/>
<text x="381.20" y="261.40" font-size="8.7" text-anchor="middle" font-weight="normal" fill="#222" stroke="#222" stroke-width="0.08" >IGK</text>
<path d="M381.20,251V253" stroke="#666" stroke-width="0.5"/>
<text x="409.80" y="261.40" font-size="8.7" text-anchor="middle" font-weight="normal" fill="#222" stroke="#222" stroke-width="0.08" >IGL</text>
<path d="M409.80,251V253" stroke="#666" stroke-width="0.5"/>
<text x="438.40" y="261.40" font-size="8.7" text-anchor="middle" font-weight="normal" fill="#222" stroke="#222" stroke-width="0.08" >TRA</text>
<path d="M438.40,251V253" stroke="#666" stroke-width="0.5"/>
<text x="467.00" y="261.40" font-size="8.7" text-anchor="middle" font-weight="normal" fill="#222" stroke="#222" stroke-width="0.08" >TRB</text>
<path d="M467.00,251V253" stroke="#666" stroke-width="0.5"/>
<text x="495.50" y="261.60" font-size="9.6" text-anchor="middle" font-weight="normal" fill="#222" stroke="#222" stroke-width="0.15" >#V</text>
<rect x="338.30" y="264.1" width="28.60" height="28.4" fill="#ecE51b"/>
<text x="352.60" y="281.30" font-size="8.4" text-anchor="middle" font-weight="normal" fill="#262626" stroke="#262626" stroke-width="0.05" >45</text>
<rect x="366.90" y="264.1" width="28.60" height="28.4" fill="#63cb5f"/>
<text x="381.20" y="281.30" font-size="8.4" text-anchor="middle" font-weight="normal" fill="#262626" stroke="#262626" stroke-width="0.05" >38</text>
<rect x="395.50" y="264.1" width="28.60" height="28.4" fill="#b0dd2f"/>
<text x="409.80" y="281.30" font-size="8.4" text-anchor="middle" font-weight="normal" fill="#262626" stroke="#262626" stroke-width="0.05" >42</text>
<rect x="424.10" y="264.1" width="28.60" height="28.4" fill="#8bd646"/>
<text x="438.40" y="281.30" font-size="8.4" text-anchor="middle" font-weight="normal" fill="#262626" stroke="#262626" stroke-width="0.05" >40</text>
<rect x="452.70" y="264.1" width="28.60" height="28.4" fill="#d8e219"/>
<text x="467.00" y="281.30" font-size="8.4" text-anchor="middle" font-weight="normal" fill="#262626" stroke="#262626" stroke-width="0.05" >44</text>
<rect x="338.30" y="292.5" width="28.60" height="29.0" fill="#472e7c"/>
<text x="352.60" y="310.10" font-size="8.4" text-anchor="middle" font-weight="normal" fill="#f4f4f4" stroke="#f4f4f4" stroke-width="0.05" >22</text>
<rect x="366.90" y="292.5" width="28.60" height="29.0" fill="#481b6d"/>
<text x="381.20" y="310.10" font-size="8.4" text-anchor="middle" font-weight="normal" fill="#f4f4f4" stroke="#f4f4f4" stroke-width="0.05" >20</text>
<rect x="395.50" y="292.5" width="28.60" height="29.0" fill="#440154"/>
<text x="409.80" y="310.10" font-size="8.4" text-anchor="middle" font-weight="normal" fill="#f4f4f4" stroke="#f4f4f4" stroke-width="0.05" >18</text>
<rect x="424.10" y="292.5" width="28.60" height="29.0" fill="#482677"/>
<text x="438.40" y="310.10" font-size="8.4" text-anchor="middle" font-weight="normal" fill="#f4f4f4" stroke="#f4f4f4" stroke-width="0.05" >21</text>
<rect x="452.70" y="292.5" width="28.60" height="29.0" fill="#24a686"/>
<text x="467.00" y="310.10" font-size="8.4" text-anchor="middle" font-weight="normal" fill="#f4f4f4" stroke="#f4f4f4" stroke-width="0.05" >34</text>
<text x="244.40" y="275.60" font-size="8.4" text-anchor="start" font-weight="normal" fill="#222" stroke="#222" stroke-width="0.15" ># species with at least</text>
<text x="244.40" y="285.60" font-size="8.4" text-anchor="start" font-weight="normal" fill="#222" stroke="#222" stroke-width="0.15" >one intact haplotype</text>
<text x="244.40" y="304.60" font-size="8.4" text-anchor="start" font-weight="normal" fill="#222" stroke="#222" stroke-width="0.15" ># species with two</text>
<text x="244.40" y="314.60" font-size="8.4" text-anchor="start" font-weight="normal" fill="#222" stroke="#222" stroke-width="0.15" >intact haplotypes</text>
<rect x="3.2" y="269.6" width="207.8" height="51.0" rx="3" ry="3" fill="#fff" stroke="#cccccc" stroke-width="0.8"/>
<rect x="6.5" y="274.30" width="12" height="5.8" fill="#1f77b4"/>
<text x="21.50" y="280.10" font-size="7.65" text-anchor="start" font-weight="normal" fill="#222" stroke="#222" stroke-width="0.15" >Carnivora</text>
<rect x="6.5" y="282.95" width="12" height="5.8" fill="#aec7e8"/>
<text x="21.50" y="288.75" font-size="7.65" text-anchor="start" font-weight="normal" fill="#222" stroke="#222" stroke-width="0.15" >Artiodactyla</text>
<rect x="6.5" y="291.60" width="12" height="5.8" fill="#ff7f0e"/>
<text x="21.50" y="297.40" font-size="7.65" text-anchor="start" font-weight="normal" fill="#222" stroke="#222" stroke-width="0.15" >Rodentia</text>
<rect x="6.5" y="300.25" width="12" height="5.8" fill="#ffbb78"/>
<text x="21.50" y="306.05" font-size="7.65" text-anchor="start" font-weight="normal" fill="#222" stroke="#222" stroke-width="0.15" >Chiroptera</text>
<rect x="6.5" y="308.90" width="12" height="5.8" fill="#2ca02c"/>
<text x="21.50" y="314.70" font-size="7.65" text-anchor="start" font-weight="normal" fill="#222" stroke="#222" stroke-width="0.15" >Didelphimorphia</text>
<rect x="82.5" y="274.30" width="12" height="5.8" fill="#98df8a"/>
<text x="97.00" y="280.10" font-size="7.65" text-anchor="start" font-weight="normal" fill="#222" stroke="#222" stroke-width="0.15" >Eulipotyphla</text>
<rect x="82.5" y="282.95" width="12" height="5.8" fill="#d62728"/>
<text x="97.00" y="288.75" font-size="7.65" text-anchor="start" font-weight="normal" fill="#222" stroke="#222" stroke-width="0.15" >Primates</text>
<rect x="82.5" y="291.60" width="12" height="5.8" fill="#ff9896"/>
<text x="97.00" y="297.40" font-size="7.65" text-anchor="start" font-weight="normal" fill="#222" stroke="#222" stroke-width="0.15" >Cingulata</text>
<rect x="82.5" y="300.25" width="12" height="5.8" fill="#9467bd"/>
<text x="97.00" y="306.05" font-size="7.65" text-anchor="start" font-weight="normal" fill="#222" stroke="#222" stroke-width="0.15" >Dermoptera</text>
<rect x="82.5" y="308.90" width="12" height="5.8" fill="#c5b0d5"/>
<text x="97.00" y="314.70" font-size="7.65" text-anchor="start" font-weight="normal" fill="#222" stroke="#222" stroke-width="0.15" >Hyracoidea</text>
<rect x="145.0" y="274.30" width="12" height="5.8" fill="#8c564b"/>
<text x="159.00" y="280.10" font-size="7.65" text-anchor="start" font-weight="normal" fill="#222" stroke="#222" stroke-width="0.15" >Perissodactyla</text>
<rect x="145.0" y="282.95" width="12" height="5.8" fill="#c49c94"/>
<text x="159.00" y="288.75" font-size="7.65" text-anchor="start" font-weight="normal" fill="#222" stroke="#222" stroke-width="0.15" >Pholidota</text>
<rect x="145.0" y="291.60" width="12" height="5.8" fill="#e377c2"/>
<text x="159.00" y="297.40" font-size="7.65" text-anchor="start" font-weight="normal" fill="#222" stroke="#222" stroke-width="0.15" >Proboscidea</text>
<text x="1.40" y="333.80" font-size="10.6" text-anchor="start" font-weight="bold" fill="#111" >(b)</text>
<text x="95.80" y="337.00" font-size="8.7" text-anchor="middle" font-weight="normal" fill="#222" stroke="#222" stroke-width="0.15" >distal IG/TR loci</text>
<rect x="28.5" y="339.3" width="134.90" height="136.70" fill="none" stroke="#8a8a8a" stroke-width="0.9"/>
<path d="M25.3,466.50H28.5" stroke="#666" stroke-width="0.7"/>
<text x="24.20" y="469.60" font-size="6.6" text-anchor="end" font-weight="normal" fill="#444" >2</text>
<path d="M25.3,449.70H28.5" stroke="#666" stroke-width="0.7"/>
<text x="24.20" y="452.80" font-size="6.6" text-anchor="end" font-weight="normal" fill="#444" >4</text>
<path d="M25.3,432.90H28.5" stroke="#666" stroke-width="0.7"/>
<text x="24.20" y="436.00" font-size="6.6" text-anchor="end" font-weight="normal" fill="#444" >6</text>
<path d="M25.3,416.10H28.5" stroke="#666" stroke-width="0.7"/>
<text x="24.20" y="419.20" font-size="6.6" text-anchor="end" font-weight="normal" fill="#444" >8</text>
<path d="M25.3,399.30H28.5" stroke="#666" stroke-width="0.7"/>
<text x="24.20" y="402.40" font-size="6.6" text-anchor="end" font-weight="normal" fill="#444" >10</text>
<path d="M25.3,382.50H28.5" stroke="#666" stroke-width="0.7"/>
<text x="24.20" y="385.60" font-size="6.6" text-anchor="end" font-weight="normal" fill="#444" >12</text>
<path d="M25.3,365.70H28.5" stroke="#666" stroke-width="0.7"/>
<text x="24.20" y="368.80" font-size="6.6" text-anchor="end" font-weight="normal" fill="#444" >14</text>
<path d="M25.3,348.90H28.5" stroke="#666" stroke-width="0.7"/>
<text x="24.20" y="352.00" font-size="6.6" text-anchor="end" font-weight="normal" fill="#444" >16</text>
<path d="M34.20,476.0V479.2" stroke="#666" stroke-width="0.7"/>
<text x="34.20" y="484.60" font-size="6.6" text-anchor="middle" font-weight="normal" fill="#444" >2</text>
<path d="M56.60,476.0V479.2" stroke="#666" stroke-width="0.7"/>
<text x="56.60" y="484.60" font-size="6.6" text-anchor="middle" font-weight="normal" fill="#444" >4</text>
<path d="M79.00,476.0V479.2" stroke="#666" stroke-width="0.7"/>
<text x="79.00" y="484.60" font-size="6.6" text-anchor="middle" font-weight="normal" fill="#444" >6</text>
<path d="M101.40,476.0V479.2" stroke="#666" stroke-width="0.7"/>
<text x="101.40" y="484.60" font-size="6.6" text-anchor="middle" font-weight="normal" fill="#444" >8</text>
<path d="M123.80,476.0V479.2" stroke="#666" stroke-width="0.7"/>
<text x="123.80" y="484.60" font-size="6.6" text-anchor="middle" font-weight="normal" fill="#444" >10</text>
<path d="M146.20,476.0V479.2" stroke="#666" stroke-width="0.7"/>
<text x="146.20" y="484.60" font-size="6.6" text-anchor="middle" font-weight="normal" fill="#444" >12</text>
<text x="95.80" y="494.30" font-size="8.2" text-anchor="middle" font-weight="normal" fill="#333" ># proximal parts</text>
<text x="0.00" y="0.00" font-size="7.9" text-anchor="middle" font-weight="normal" fill="#333" transform="translate(13.3,408.0) rotate(-90)">length (Mbp)</text>
<path d="M139.7,345.7H152.5 M109.4,354.9L92.5,372.6 M34.2,428.4V434.8 M41.8,427.3L34.9,457.6 M60.6,433.2L64.4,431.5 M45.8,443.6L51.5,449.6" stroke="#333" stroke-width="0.6" fill="none"/>
<circle cx="90.20" cy="374.94" r="2.6" fill="#0d0887"/>
<circle cx="157.40" cy="345.54" r="2.6" fill="#7e03a8"/>
<circle cx="90.20" cy="451.80" r="2.6" fill="#7e03a8"/>
<circle cx="45.40" cy="442.98" r="2.6" fill="#7e03a8"/>
<circle cx="34.20" cy="460.62" r="2.6" fill="#7e03a8"/>
<circle cx="56.60" cy="433.74" r="2.6" fill="#cc4778"/>
<circle cx="56.60" cy="438.78" r="2.6" fill="#cc4778"/>
<circle cx="45.40" cy="464.82" r="2.6" fill="#cc4778"/>
<circle cx="34.20" cy="469.44" r="2.6" fill="#cc4778"/>
<circle cx="34.20" cy="437.52" r="2.6" fill="#f89540"/>
<circle cx="41.9" cy="349.10" r="4.7" fill="#0d0887"/>
<text x="48.20" y="351.90" font-size="7.6" text-anchor="start" font-weight="normal" fill="#222" stroke="#222" stroke-width="0.1" >IGH</text>
<circle cx="41.9" cy="359.65" r="4.7" fill="#7e03a8"/>
<text x="48.20" y="362.45" font-size="7.6" text-anchor="start" font-weight="normal" fill="#222" stroke="#222" stroke-width="0.1" >IGK</text>
<circle cx="41.9" cy="370.20" r="4.7" fill="#cc4778"/>
<text x="48.20" y="373.00" font-size="7.6" text-anchor="start" font-weight="normal" fill="#222" stroke="#222" stroke-width="0.1" >IGL</text>
<circle cx="41.9" cy="380.75" r="4.7" fill="#f89540"/>
<text x="48.20" y="383.55" font-size="7.6" text-anchor="start" font-weight="normal" fill="#222" stroke="#222" stroke-width="0.1" >TRA</text>
<text x="122.00" y="348.00" font-size="6.6" text-anchor="middle" font-weight="normal" fill="#222" stroke="#222" stroke-width="0.15" >nine-banded</text>
<text x="122.00" y="355.50" font-size="6.6" text-anchor="middle" font-weight="normal" fill="#222" stroke="#222" stroke-width="0.15" >armadillo</text>
<text x="46.00" y="419.20" font-size="6.6" text-anchor="middle" font-weight="normal" fill="#222" stroke="#222" stroke-width="0.15" >European</text>
<text x="46.00" y="426.80" font-size="6.6" text-anchor="middle" font-weight="normal" fill="#222" stroke="#222" stroke-width="0.15" >snow vole</text>
<text x="65.70" y="434.00" font-size="6.6" text-anchor="start" font-weight="normal" fill="#222" stroke="#222" stroke-width="0.15" >slow loris</text>
<text x="63.20" y="448.60" font-size="6.6" text-anchor="middle" font-weight="normal" fill="#222" stroke="#222" stroke-width="0.15" >tammar</text>
<text x="63.20" y="456.00" font-size="6.6" text-anchor="middle" font-weight="normal" fill="#222" stroke="#222" stroke-width="0.15" >wallaby</text>
<text x="94.90" y="454.00" font-size="6.6" text-anchor="start" font-weight="normal" fill="#222" stroke="#222" stroke-width="0.15" >Chinese pangolin</text>
<text x="49.60" y="465.80" font-size="6.6" text-anchor="start" font-weight="normal" fill="#222" stroke="#222" stroke-width="0.15" >gray short-tailed opossum</text>
<text x="37.40" y="474.00" font-size="6.6" text-anchor="start" font-weight="normal" fill="#222" stroke="#222" stroke-width="0.15" >deer mouse</text>
<text x="168.10" y="333.30" font-size="10.2" text-anchor="start" font-weight="bold" fill="#111" >(c)</text>
<text x="256.00" y="336.40" font-size="8.2" text-anchor="middle" font-weight="normal" fill="#333" textLength="26.5" lengthAdjust="spacingAndGlyphs">P=****</text>
<rect x="195.1" y="460.52" width="54.0" height="15.28" fill="#7f7f7f"/>
<rect x="264.0" y="389.18" width="54.0" height="86.62" fill="#e31a1c"/>
<path d="M222.1,463.20V457.53 M290.8,422.25V345.55" stroke="#333" stroke-width="1.0"/>
<rect x="187.8" y="339.3" width="137.40" height="136.50" fill="none" stroke="#9a9a9a" stroke-width="0.9"/>
<path d="M185.2,475.80H187.8" stroke="#555" stroke-width="0.7"/>
<text x="183.90" y="478.40" font-size="7.3" text-anchor="end" font-weight="normal" fill="#333" >0</text>
<path d="M185.2,460.05H187.8" stroke="#555" stroke-width="0.7"/>
<text x="183.90" y="462.65" font-size="7.3" text-anchor="end" font-weight="normal" fill="#333" >1</text>
<path d="M185.2,444.30H187.8" stroke="#555" stroke-width="0.7"/>
<text x="183.90" y="446.90" font-size="7.3" text-anchor="end" font-weight="normal" fill="#333" >2</text>
<path d="M185.2,428.55H187.8" stroke="#555" stroke-width="0.7"/>
<text x="183.90" y="431.15" font-size="7.3" text-anchor="end" font-weight="normal" fill="#333" >3</text>
<path d="M185.2,412.80H187.8" stroke="#555" stroke-width="0.7"/>
<text x="183.90" y="415.40" font-size="7.3" text-anchor="end" font-weight="normal" fill="#333" >4</text>
<path d="M185.2,397.05H187.8" stroke="#555" stroke-width="0.7"/>
<text x="183.90" y="399.65" font-size="7.3" text-anchor="end" font-weight="normal" fill="#333" >5</text>
<path d="M185.2,381.30H187.8" stroke="#555" stroke-width="0.7"/>
<text x="183.90" y="383.90" font-size="7.3" text-anchor="end" font-weight="normal" fill="#333" >6</text>
<path d="M185.2,365.55H187.8" stroke="#555" stroke-width="0.7"/>
<text x="183.90" y="368.15" font-size="7.3" text-anchor="end" font-weight="normal" fill="#333" >7</text>
<path d="M185.2,349.80H187.8" stroke="#555" stroke-width="0.7"/>
<text x="183.90" y="352.40" font-size="7.3" text-anchor="end" font-weight="normal" fill="#333" >8</text>
<path d="M222.1,475.8V479" stroke="#444" stroke-width="0.7"/>
<text x="222.10" y="484.80" font-size="8.0" text-anchor="middle" font-weight="normal" fill="#222" stroke="#222" stroke-width="0.02" >proximal</text>
<path d="M291.0,475.8V479" stroke="#444" stroke-width="0.7"/>
<text x="291.00" y="484.80" font-size="8.0" text-anchor="middle" font-weight="normal" fill="#222" stroke="#222" stroke-width="0.02" >distal</text>
<text x="0.00" y="0.00" font-size="7.8" text-anchor="middle" font-weight="normal" fill="#333" transform="translate(177.0,408.2) rotate(-90)">length (Mbp)</text>
<text x="336.00" y="333.30" font-size="10.2" text-anchor="start" font-weight="bold" fill="#111" >(d)</text>
<text x="433.10" y="336.40" font-size="8.2" text-anchor="middle" font-weight="normal" fill="#333" textLength="14.6" lengthAdjust="spacingAndGlyphs">P=*</text>
<rect x="372.0" y="401.36" width="54.4" height="74.34" fill="#7f7f7f"/>
<rect x="440.5" y="374.81" width="54.2" height="100.89" fill="#e31a1c"/>
<path d="M398.8,415.52V385.43 M467.6,403.13V345.07" stroke="#333" stroke-width="1.0"/>
<rect x="364.3" y="339.3" width="137.90" height="136.40" fill="none" stroke="#9a9a9a" stroke-width="0.9"/>
<path d="M361.7,475.70H364.3" stroke="#555" stroke-width="0.7"/>
<text x="360.20" y="478.30" font-size="7.3" text-anchor="end" font-weight="normal" fill="#333" >0</text>
<path d="M361.7,458.00H364.3" stroke="#555" stroke-width="0.7"/>
<text x="360.20" y="460.60" font-size="7.3" text-anchor="end" font-weight="normal" fill="#333" >10</text>
<path d="M361.7,440.30H364.3" stroke="#555" stroke-width="0.7"/>
<text x="360.20" y="442.90" font-size="7.3" text-anchor="end" font-weight="normal" fill="#333" >20</text>
<path d="M361.7,422.60H364.3" stroke="#555" stroke-width="0.7"/>
<text x="360.20" y="425.20" font-size="7.3" text-anchor="end" font-weight="normal" fill="#333" >30</text>
<path d="M361.7,404.90H364.3" stroke="#555" stroke-width="0.7"/>
<text x="360.20" y="407.50" font-size="7.3" text-anchor="end" font-weight="normal" fill="#333" >40</text>
<path d="M361.7,387.20H364.3" stroke="#555" stroke-width="0.7"/>
<text x="360.20" y="389.80" font-size="7.3" text-anchor="end" font-weight="normal" fill="#333" >50</text>
<path d="M361.7,369.50H364.3" stroke="#555" stroke-width="0.7"/>
<text x="360.20" y="372.10" font-size="7.3" text-anchor="end" font-weight="normal" fill="#333" >60</text>
<path d="M361.7,351.80H364.3" stroke="#555" stroke-width="0.7"/>
<text x="360.20" y="354.40" font-size="7.3" text-anchor="end" font-weight="normal" fill="#333" >70</text>
<path d="M398.8,475.7V479" stroke="#444" stroke-width="0.7"/>
<text x="398.80" y="484.80" font-size="8.0" text-anchor="middle" font-weight="normal" fill="#222" stroke="#222" stroke-width="0.02" >proximal</text>
<path d="M467.6,475.7V479" stroke="#444" stroke-width="0.7"/>
<text x="467.60" y="484.80" font-size="8.0" text-anchor="middle" font-weight="normal" fill="#222" stroke="#222" stroke-width="0.02" >distal</text>
<text x="0.00" y="0.00" font-size="8.2" text-anchor="middle" font-weight="normal" fill="#333" transform="translate(350.3,407.0) rotate(-90)">#V genes</text>
</svg>
</body></html>
